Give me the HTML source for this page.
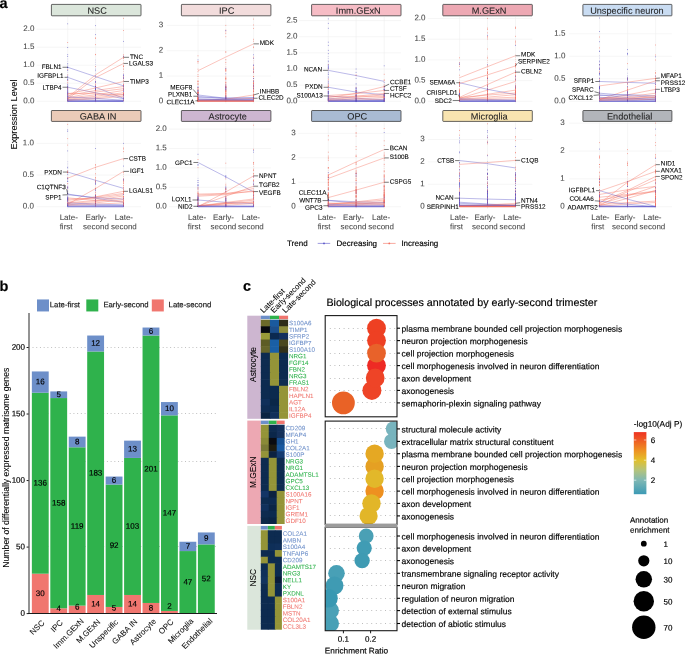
<!DOCTYPE html>
<html><head><meta charset="utf-8"><title>Figure</title>
<style>
html,body{margin:0;padding:0;background:#fff;}
svg{display:block;font-family:'Liberation Sans', sans-serif;will-change:transform;opacity:0.999;}
</style></head>
<body>
<svg width="685" height="654" viewBox="0 0 685 654">
<rect width="685" height="654" fill="#fff"/>
<line x1="36.60" y1="101.30" x2="141.00" y2="101.30" stroke="#eeeeee" stroke-width="0.55"/>
<text x="34.40" y="103.15" font-size="8" text-anchor="end" transform="rotate(0.05 34.40 103.15)" fill="#484848" stroke="#484848" stroke-width="0.07">0.0</text>
<line x1="36.60" y1="83.28" x2="141.00" y2="83.28" stroke="#eeeeee" stroke-width="0.55"/>
<text x="34.40" y="85.12" font-size="8" text-anchor="end" transform="rotate(0.05 34.40 85.12)" fill="#484848" stroke="#484848" stroke-width="0.07">0.5</text>
<line x1="36.60" y1="65.25" x2="141.00" y2="65.25" stroke="#eeeeee" stroke-width="0.55"/>
<text x="34.40" y="67.10" font-size="8" text-anchor="end" transform="rotate(0.05 34.40 67.10)" fill="#484848" stroke="#484848" stroke-width="0.07">1.0</text>
<line x1="36.60" y1="47.23" x2="141.00" y2="47.23" stroke="#eeeeee" stroke-width="0.55"/>
<text x="34.40" y="49.08" font-size="8" text-anchor="end" transform="rotate(0.05 34.40 49.08)" fill="#484848" stroke="#484848" stroke-width="0.07">1.5</text>
<line x1="36.60" y1="29.20" x2="141.00" y2="29.20" stroke="#eeeeee" stroke-width="0.55"/>
<text x="34.40" y="31.05" font-size="8" text-anchor="end" transform="rotate(0.05 34.40 31.05)" fill="#484848" stroke="#484848" stroke-width="0.07">2.0</text>
<line x1="67.70" y1="17.00" x2="67.70" y2="103.50" stroke="#eeeeee" stroke-width="0.55"/>
<line x1="95.60" y1="17.00" x2="95.60" y2="103.50" stroke="#eeeeee" stroke-width="0.55"/>
<line x1="123.50" y1="17.00" x2="123.50" y2="103.50" stroke="#eeeeee" stroke-width="0.55"/>
<line x1="67.70" y1="58.67" x2="67.70" y2="101.30" stroke="#5a55c8" stroke-width="0.8" stroke-dasharray=".7 1.5" opacity=".4"/>
<line x1="67.70" y1="78.05" x2="67.70" y2="101.30" stroke="#f4705f" stroke-width="0.8" stroke-dasharray=".7 1.9" stroke-dashoffset="1" opacity=".35"/>
<line x1="67.70" y1="101.30" x2="67.70" y2="92.00" stroke="#5a55c8" stroke-width="0.7" opacity=".5"/>
<line x1="95.60" y1="59.66" x2="95.60" y2="101.30" stroke="#5a55c8" stroke-width="0.8" stroke-dasharray=".7 1.5" opacity=".4"/>
<line x1="95.60" y1="78.59" x2="95.60" y2="101.30" stroke="#f4705f" stroke-width="0.8" stroke-dasharray=".7 1.9" stroke-dashoffset="1" opacity=".35"/>
<line x1="95.60" y1="101.30" x2="95.60" y2="92.22" stroke="#5a55c8" stroke-width="0.7" opacity=".5"/>
<line x1="123.50" y1="55.70" x2="123.50" y2="101.30" stroke="#f4705f" stroke-width="0.8" stroke-dasharray=".7 1.5" opacity=".4"/>
<line x1="123.50" y1="76.43" x2="123.50" y2="101.30" stroke="#5a55c8" stroke-width="0.8" stroke-dasharray=".7 1.9" stroke-dashoffset="1" opacity=".35"/>
<line x1="123.50" y1="101.30" x2="123.50" y2="91.35" stroke="#5a55c8" stroke-width="0.7" opacity=".5"/>
<path d="M67.7 42.5h0M67.7 87.6h0M67.7 75.1h0M67.7 80.5h0M67.7 88.6h0M67.7 69.7h0M67.7 82.9h0M67.7 100.3h0M67.7 97.9h0M67.7 93.6h0M67.7 99.3h0M67.7 95.8h0M67.7 98.1h0M67.7 89.8h0M67.7 91.6h0M67.7 94.6h0M67.7 88.3h0M67.7 101.1h0M95.6 38.5h0M95.6 37.8h0M95.6 54.7h0M95.6 54.4h0M95.6 66.7h0M95.6 44.6h0M95.6 85.2h0M95.6 89.9h0M95.6 86.5h0M95.6 87.6h0M95.6 81.7h0M95.6 89.4h0M95.6 84.2h0M95.6 87.2h0M95.6 100.7h0M95.6 100.5h0M95.6 98.6h0M95.6 101.2h0M95.6 87.1h0M95.6 94.5h0M95.6 101.2h0M95.6 94.7h0M95.6 91.8h0M95.6 90.5h0M95.6 90.4h0M95.6 97.7h0M95.6 89.9h0M123.5 18.4h0M123.5 30.5h0M123.5 58.5h0M123.5 56.6h0M123.5 54.8h0M123.5 57.2h0M123.5 78.4h0M123.5 66.2h0M123.5 80.1h0M123.5 66.4h0M123.5 66.0h0M123.5 76.4h0M123.5 88.4h0M123.5 77.9h0M123.5 84.3h0M123.5 88.8h0M123.5 69.0h0M123.5 84.6h0M123.5 90.4h0M123.5 93.6h0M123.5 97.4h0M123.5 94.2h0M123.5 93.6h0M123.5 89.2h0M123.5 100.4h0M123.5 93.5h0M123.5 94.4h0M123.5 93.5h0M123.5 89.7h0M123.5 95.5h0M123.5 92.5h0M123.5 94.5h0M123.5 95.4h0M123.5 94.0h0M123.5 86.0h0M123.5 87.3h0M123.5 86.0h0M123.5 98.4h0M123.5 93.5h0M123.5 85.9h0M123.5 100.0h0" stroke="#f4705f" stroke-width="0.95" stroke-linecap="round" fill="none" opacity=".72"/>
<path d="M67.7 23.8h0M67.7 56.5h0M67.7 63.9h0M67.7 67.2h0M67.7 47.5h0M67.7 54.7h0M67.7 67.8h0M67.7 77.9h0M67.7 88.8h0M67.7 79.6h0M67.7 88.0h0M67.7 79.8h0M67.7 70.4h0M67.7 86.8h0M67.7 84.5h0M67.7 67.6h0M67.7 76.3h0M67.7 67.0h0M67.7 86.3h0M67.7 89.4h0M67.7 99.6h0M67.7 92.6h0M67.7 97.0h0M67.7 94.2h0M67.7 100.9h0M67.7 100.9h0M67.7 91.9h0M67.7 96.2h0M67.7 97.9h0M67.7 93.6h0M67.7 98.8h0M67.7 93.8h0M67.7 91.0h0M67.7 98.2h0M67.7 86.2h0M67.7 100.3h0M67.7 96.3h0M67.7 90.5h0M67.7 100.0h0M67.7 95.2h0M67.7 92.1h0M95.6 25.6h0M95.6 34.6h0M95.6 88.5h0M95.6 88.4h0M95.6 86.3h0M95.6 82.2h0M95.6 88.8h0M95.6 70.1h0M95.6 76.0h0M95.6 86.6h0M95.6 82.1h0M95.6 81.7h0M95.6 89.1h0M95.6 86.3h0M95.6 95.7h0M95.6 95.4h0M95.6 97.5h0M95.6 89.4h0M95.6 99.9h0M95.6 94.7h0M95.6 100.1h0M95.6 86.6h0M95.6 88.8h0M95.6 98.7h0M95.6 97.2h0M95.6 99.8h0M95.6 94.6h0M95.6 99.1h0M95.6 89.8h0M95.6 86.5h0M95.6 89.0h0M95.6 89.6h0M123.5 41.4h0M123.5 56.3h0M123.5 85.6h0M123.5 77.5h0M123.5 74.4h0M123.5 78.4h0M123.5 75.6h0M123.5 75.8h0M123.5 95.0h0M123.5 98.6h0M123.5 98.2h0M123.5 89.4h0M123.5 86.6h0M123.5 94.4h0M123.5 91.0h0M123.5 94.9h0M123.5 90.9h0M123.5 88.1h0" stroke="#5a55c8" stroke-width="0.95" stroke-linecap="round" fill="none" opacity=".72"/>
<polyline points="67.70,67.27 95.60,76.64 123.50,85.87" fill="none" stroke="#5a55c8" stroke-width="0.45" stroke-opacity="0.9"/>
<polyline points="67.70,77.33 95.60,87.24 123.50,98.27" fill="none" stroke="#5a55c8" stroke-width="0.45" stroke-opacity="0.9"/>
<polyline points="67.70,87.24 95.60,92.76 123.50,98.78" fill="none" stroke="#5a55c8" stroke-width="0.45" stroke-opacity="0.9"/>
<polyline points="67.70,97.33 95.60,74.84 123.50,57.32" fill="none" stroke="#f4705f" stroke-width="0.45" stroke-opacity="0.9"/>
<polyline points="67.70,98.96 95.60,77.62 123.50,63.45" fill="none" stroke="#f4705f" stroke-width="0.45" stroke-opacity="0.9"/>
<polyline points="67.70,94.09 95.60,87.96 123.50,81.47" fill="none" stroke="#f4705f" stroke-width="0.45" stroke-opacity="0.9"/>
<polyline points="67.70,95.53 95.60,90.48 123.50,86.52" fill="none" stroke="#f4705f" stroke-width="0.45" stroke-opacity="0.9"/>
<polyline points="67.70,97.69 95.60,92.07 123.50,88.68" fill="none" stroke="#f4705f" stroke-width="0.45" stroke-opacity="0.9"/>
<polyline points="67.70,98.24 95.60,94.81 123.50,90.48" fill="none" stroke="#f4705f" stroke-width="0.45" stroke-opacity="0.9"/>
<polyline points="67.70,99.25 95.60,96.25 123.50,92.76" fill="none" stroke="#f4705f" stroke-width="0.45" stroke-opacity="0.9"/>
<polyline points="67.70,100.07 95.60,97.69 123.50,94.56" fill="none" stroke="#f4705f" stroke-width="0.45" stroke-opacity="0.9"/>
<polyline points="67.70,100.58 95.60,98.78 123.50,96.25" fill="none" stroke="#f4705f" stroke-width="0.45" stroke-opacity="0.9"/>
<polyline points="67.70,93.37 95.60,93.73 123.50,94.81" fill="none" stroke="#f4705f" stroke-width="0.45" stroke-opacity="0.9"/>
<polyline points="67.70,96.97 95.60,98.42 123.50,100.22" fill="none" stroke="#5a55c8" stroke-width="0.45" stroke-opacity="0.9"/>
<polyline points="67.70,99.50 95.60,100.22 123.50,100.58" fill="none" stroke="#5a55c8" stroke-width="0.45" stroke-opacity="0.9"/>
<polyline points="67.70,100.58 95.60,100.58 123.50,100.94" fill="none" stroke="#5a55c8" stroke-width="0.45" stroke-opacity="0.9"/>
<line x1="67.70" y1="101.40" x2="123.50" y2="101.40" stroke="#5a55c8" stroke-width="1.1" opacity=".75"/>
<rect x="51.40" y="4.40" width="89.60" height="11.40" fill="#dbe6db" stroke="#333" stroke-width="0.75" rx="0.6"/>
<text x="97.10" y="13.70" font-size="9.2" text-anchor="middle" transform="rotate(0.05 97.10 13.70)" fill="#222" stroke="#222" stroke-width="0.07">NSC</text>
<text x="61.60" y="69.10" font-size="6.4" text-anchor="end" transform="rotate(0.05 61.60 69.10)" fill="#000" stroke="#000" stroke-width="0.08">FBLN1</text>
<line x1="62.50" y1="67.27" x2="67.70" y2="67.27" stroke="#111" stroke-width="0.55"/>
<text x="63.60" y="77.90" font-size="6.4" text-anchor="end" transform="rotate(0.05 63.60 77.90)" fill="#000" stroke="#000" stroke-width="0.08">IGFBPL1</text>
<line x1="64.50" y1="77.33" x2="67.70" y2="77.33" stroke="#111" stroke-width="0.55"/>
<text x="61.60" y="89.70" font-size="6.4" text-anchor="end" transform="rotate(0.05 61.60 89.70)" fill="#000" stroke="#000" stroke-width="0.08">LTBP4</text>
<line x1="62.50" y1="87.24" x2="67.70" y2="87.24" stroke="#111" stroke-width="0.55"/>
<text x="129.90" y="59.10" font-size="6.4" transform="rotate(0.05 129.90 59.10)" fill="#000" stroke="#000" stroke-width="0.08">TNC</text>
<line x1="129.00" y1="57.32" x2="123.50" y2="57.32" stroke="#111" stroke-width="0.55"/>
<text x="128.90" y="65.60" font-size="6.4" transform="rotate(0.05 128.90 65.60)" fill="#000" stroke="#000" stroke-width="0.08">LGALS3</text>
<line x1="128.00" y1="63.45" x2="123.50" y2="63.45" stroke="#111" stroke-width="0.55"/>
<text x="129.90" y="83.70" font-size="6.4" transform="rotate(0.05 129.90 83.70)" fill="#000" stroke="#000" stroke-width="0.08">TIMP3</text>
<line x1="129.00" y1="81.47" x2="123.50" y2="81.47" stroke="#111" stroke-width="0.55"/>
<line x1="166.80" y1="101.30" x2="270.90" y2="101.30" stroke="#eeeeee" stroke-width="0.55"/>
<text x="163.20" y="103.15" font-size="8" text-anchor="end" transform="rotate(0.05 163.20 103.15)" fill="#484848" stroke="#484848" stroke-width="0.07">0</text>
<line x1="166.80" y1="76.00" x2="270.90" y2="76.00" stroke="#eeeeee" stroke-width="0.55"/>
<text x="163.20" y="77.85" font-size="8" text-anchor="end" transform="rotate(0.05 163.20 77.85)" fill="#484848" stroke="#484848" stroke-width="0.07">1</text>
<line x1="166.80" y1="50.70" x2="270.90" y2="50.70" stroke="#eeeeee" stroke-width="0.55"/>
<text x="163.20" y="52.55" font-size="8" text-anchor="end" transform="rotate(0.05 163.20 52.55)" fill="#484848" stroke="#484848" stroke-width="0.07">2</text>
<line x1="166.80" y1="25.40" x2="270.90" y2="25.40" stroke="#eeeeee" stroke-width="0.55"/>
<text x="163.20" y="27.25" font-size="8" text-anchor="end" transform="rotate(0.05 163.20 27.25)" fill="#484848" stroke="#484848" stroke-width="0.07">3</text>
<line x1="198.00" y1="17.00" x2="198.00" y2="103.50" stroke="#eeeeee" stroke-width="0.55"/>
<line x1="225.80" y1="17.00" x2="225.80" y2="103.50" stroke="#eeeeee" stroke-width="0.55"/>
<line x1="253.60" y1="17.00" x2="253.60" y2="103.50" stroke="#eeeeee" stroke-width="0.55"/>
<line x1="198.00" y1="76.25" x2="198.00" y2="101.30" stroke="#f4705f" stroke-width="0.8" stroke-dasharray=".7 1.5" opacity=".4"/>
<line x1="198.00" y1="87.64" x2="198.00" y2="101.30" stroke="#5a55c8" stroke-width="0.8" stroke-dasharray=".7 1.9" stroke-dashoffset="1" opacity=".35"/>
<line x1="198.00" y1="101.30" x2="198.00" y2="95.84" stroke="#f4705f" stroke-width="0.7" opacity=".5"/>
<line x1="225.80" y1="59.55" x2="225.80" y2="101.30" stroke="#f4705f" stroke-width="0.8" stroke-dasharray=".7 1.5" opacity=".4"/>
<line x1="225.80" y1="78.53" x2="225.80" y2="101.30" stroke="#5a55c8" stroke-width="0.8" stroke-dasharray=".7 1.9" stroke-dashoffset="1" opacity=".35"/>
<line x1="225.80" y1="101.30" x2="225.80" y2="92.19" stroke="#f4705f" stroke-width="0.7" opacity=".5"/>
<line x1="253.60" y1="56.08" x2="253.60" y2="101.30" stroke="#f4705f" stroke-width="0.8" stroke-dasharray=".7 1.5" opacity=".4"/>
<line x1="253.60" y1="76.63" x2="253.60" y2="101.30" stroke="#5a55c8" stroke-width="0.8" stroke-dasharray=".7 1.9" stroke-dashoffset="1" opacity=".35"/>
<line x1="253.60" y1="101.30" x2="253.60" y2="91.43" stroke="#f4705f" stroke-width="0.7" opacity=".5"/>
<path d="M198.0 55.8h0M198.0 63.0h0M198.0 81.0h0M198.0 61.6h0M198.0 81.4h0M198.0 61.5h0M198.0 71.7h0M198.0 74.6h0M198.0 69.2h0M198.0 76.4h0M198.0 92.7h0M198.0 91.2h0M198.0 93.0h0M198.0 92.3h0M198.0 93.8h0M198.0 90.3h0M198.0 84.1h0M198.0 87.6h0M198.0 92.0h0M198.0 89.7h0M198.0 84.5h0M198.0 91.9h0M198.0 88.0h0M198.0 81.7h0M198.0 93.0h0M198.0 83.3h0M198.0 88.6h0M198.0 97.6h0M198.0 98.6h0M198.0 97.5h0M198.0 95.7h0M198.0 92.4h0M198.0 99.0h0M198.0 94.1h0M198.0 95.5h0M198.0 96.2h0M198.0 98.5h0M198.0 99.0h0M198.0 101.1h0M198.0 100.7h0M198.0 101.0h0M198.0 95.1h0M198.0 99.8h0M198.0 100.4h0M198.0 100.9h0M198.0 94.0h0M198.0 93.7h0M198.0 99.5h0M198.0 99.9h0M198.0 99.5h0M198.0 98.0h0M198.0 100.5h0M198.0 98.1h0M198.0 99.7h0M198.0 92.6h0M198.0 92.5h0M198.0 97.1h0M198.0 99.8h0M198.0 92.6h0M198.0 99.3h0M198.0 98.9h0M198.0 101.3h0M198.0 98.7h0M198.0 97.8h0M198.0 97.6h0M198.0 100.2h0M198.0 97.6h0M198.0 101.3h0M198.0 99.7h0M198.0 100.9h0M198.0 98.5h0M225.8 25.4h0M225.8 33.6h0M225.8 62.6h0M225.8 30.1h0M225.8 31.9h0M225.8 70.2h0M225.8 51.8h0M225.8 36.7h0M225.8 52.2h0M225.8 59.7h0M225.8 85.1h0M225.8 76.7h0M225.8 86.7h0M225.8 78.0h0M225.8 68.2h0M225.8 86.9h0M225.8 71.2h0M225.8 78.3h0M225.8 69.7h0M225.8 84.6h0M225.8 69.5h0M225.8 78.8h0M225.8 89.3h0M225.8 89.8h0M225.8 78.7h0M225.8 79.7h0M225.8 83.0h0M225.8 82.1h0M225.8 82.7h0M225.8 70.8h0M225.8 90.8h0M225.8 89.2h0M225.8 100.3h0M225.8 87.6h0M225.8 91.5h0M225.8 96.8h0M225.8 86.1h0M225.8 93.7h0M225.8 96.3h0M225.8 98.5h0M225.8 101.0h0M225.8 100.5h0M225.8 98.6h0M225.8 95.0h0M225.8 99.5h0M225.8 97.1h0M225.8 87.0h0M225.8 89.7h0M225.8 93.0h0M225.8 87.8h0M225.8 87.3h0M225.8 94.3h0M225.8 91.4h0M225.8 101.0h0M225.8 91.2h0M225.8 90.8h0M225.8 92.7h0M225.8 98.3h0M225.8 101.0h0M225.8 87.5h0M225.8 100.3h0M225.8 95.6h0M225.8 97.5h0M225.8 98.2h0M225.8 91.1h0M225.8 86.6h0M253.6 19.1h0M253.6 41.2h0M253.6 67.9h0M253.6 47.6h0M253.6 25.0h0M253.6 39.3h0M253.6 28.4h0M253.6 46.9h0M253.6 57.8h0M253.6 82.9h0M253.6 71.6h0M253.6 81.4h0M253.6 76.7h0M253.6 72.3h0M253.6 82.6h0M253.6 72.5h0M253.6 66.1h0M253.6 83.4h0M253.6 88.1h0M253.6 80.6h0M253.6 78.6h0M253.6 84.1h0M253.6 70.7h0M253.6 76.5h0M253.6 83.9h0M253.6 68.7h0M253.6 83.3h0M253.6 99.0h0M253.6 89.8h0M253.6 85.9h0M253.6 94.7h0M253.6 99.4h0M253.6 99.0h0M253.6 96.0h0M253.6 91.6h0M253.6 85.9h0M253.6 99.9h0M253.6 96.4h0M253.6 99.1h0M253.6 85.4h0M253.6 100.0h0M253.6 100.9h0M253.6 100.9h0M253.6 96.4h0M253.6 87.0h0M253.6 87.3h0M253.6 90.3h0M253.6 99.5h0M253.6 86.2h0M253.6 90.1h0M253.6 101.1h0M253.6 91.6h0M253.6 96.6h0M253.6 96.7h0M253.6 97.4h0M253.6 99.7h0M253.6 101.3h0M253.6 98.2h0M253.6 97.1h0M253.6 85.8h0M253.6 100.2h0M253.6 85.6h0M253.6 99.2h0M253.6 97.0h0M253.6 88.6h0M253.6 88.6h0M253.6 95.8h0M253.6 101.0h0M253.6 95.1h0" stroke="#f4705f" stroke-width="0.95" stroke-linecap="round" fill="none" opacity=".72"/>
<path d="M198.0 59.9h0M198.0 87.3h0M198.0 91.7h0M198.0 90.2h0M198.0 90.5h0M198.0 94.2h0M198.0 91.0h0M198.0 94.3h0M198.0 86.9h0M198.0 94.1h0M198.0 95.9h0M225.8 30.5h0M225.8 85.1h0M225.8 68.4h0M225.8 73.9h0M225.8 86.7h0M225.8 89.9h0M225.8 88.0h0M225.8 98.3h0M225.8 97.1h0M225.8 97.3h0M225.8 89.3h0M225.8 98.3h0M225.8 87.4h0M225.8 98.8h0M225.8 88.4h0M225.8 95.9h0M253.6 58.3h0M253.6 54.8h0M253.6 65.3h0M253.6 88.4h0M253.6 78.6h0M253.6 72.1h0M253.6 69.3h0M253.6 65.0h0M253.6 81.3h0M253.6 97.9h0M253.6 84.9h0M253.6 86.3h0M253.6 97.4h0" stroke="#5a55c8" stroke-width="0.95" stroke-linecap="round" fill="none" opacity=".72"/>
<polyline points="198.00,70.69 225.80,57.02 253.60,43.87" fill="none" stroke="#f4705f" stroke-width="0.45" stroke-opacity="0.9"/>
<polyline points="198.00,94.97 225.80,98.26 253.60,97.50" fill="none" stroke="#5a55c8" stroke-width="0.45" stroke-opacity="0.9"/>
<polyline points="198.00,96.24 225.80,98.77 253.60,99.28" fill="none" stroke="#5a55c8" stroke-width="0.45" stroke-opacity="0.9"/>
<polyline points="198.00,97.50 225.80,98.01 253.60,98.26" fill="none" stroke="#5a55c8" stroke-width="0.45" stroke-opacity="0.9"/>
<polyline points="198.00,100.03 225.80,99.28 253.60,94.97" fill="none" stroke="#f4705f" stroke-width="0.45" stroke-opacity="0.9"/>
<polyline points="198.00,100.29 225.80,100.03 253.60,98.26" fill="none" stroke="#f4705f" stroke-width="0.45" stroke-opacity="0.9"/>
<polyline points="198.00,98.77 225.80,99.78 253.60,100.03" fill="none" stroke="#5a55c8" stroke-width="0.45" stroke-opacity="0.9"/>
<polyline points="198.00,100.79 225.80,100.79 253.60,100.54" fill="none" stroke="#f4705f" stroke-width="0.45" stroke-opacity="0.9"/>
<polyline points="198.00,100.54 225.80,100.67 253.60,100.79" fill="none" stroke="#f4705f" stroke-width="0.45" stroke-opacity="0.9"/>
<polyline points="198.00,100.92 225.80,100.79 253.60,100.92" fill="none" stroke="#f4705f" stroke-width="0.45" stroke-opacity="0.9"/>
<polyline points="198.00,100.03 225.80,100.29 253.60,100.54" fill="none" stroke="#5a55c8" stroke-width="0.45" stroke-opacity="0.9"/>
<polyline points="198.00,101.05 225.80,101.05 253.60,101.05" fill="none" stroke="#5a55c8" stroke-width="0.45" stroke-opacity="0.9"/>
<line x1="198.00" y1="100.00" x2="253.60" y2="100.00" stroke="#5a55c8" stroke-width="0.9" opacity=".7"/>
<line x1="198.00" y1="101.10" x2="253.60" y2="101.10" stroke="#f4705f" stroke-width="1.3" opacity=".95"/>
<rect x="181.40" y="4.40" width="89.50" height="11.40" fill="#f2dcdc" stroke="#333" stroke-width="0.75" rx="0.6"/>
<text x="226.65" y="13.70" font-size="9.2" text-anchor="middle" transform="rotate(0.05 226.65 13.70)" fill="#222" stroke="#222" stroke-width="0.07">IPC</text>
<text x="192.20" y="89.50" font-size="6.4" text-anchor="end" transform="rotate(0.05 192.20 89.50)" fill="#000" stroke="#000" stroke-width="0.08">MEGF8</text>
<line x1="193.10" y1="89.40" x2="198.00" y2="94.97" stroke="#111" stroke-width="0.55"/>
<text x="192.40" y="96.50" font-size="6.4" text-anchor="end" transform="rotate(0.05 192.40 96.50)" fill="#000" stroke="#000" stroke-width="0.08">PLXNB1</text>
<line x1="193.30" y1="96.24" x2="198.00" y2="96.24" stroke="#111" stroke-width="0.55"/>
<text x="194.50" y="104.30" font-size="6.4" text-anchor="end" transform="rotate(0.05 194.50 104.30)" fill="#000" stroke="#000" stroke-width="0.08">CLEC11A</text>
<line x1="195.40" y1="100.79" x2="198.00" y2="100.79" stroke="#111" stroke-width="0.55"/>
<text x="259.80" y="45.00" font-size="6.4" transform="rotate(0.05 259.80 45.00)" fill="#000" stroke="#000" stroke-width="0.08">MDK</text>
<line x1="258.90" y1="43.87" x2="253.60" y2="43.87" stroke="#111" stroke-width="0.55"/>
<text x="259.80" y="93.50" font-size="6.4" transform="rotate(0.05 259.80 93.50)" fill="#000" stroke="#000" stroke-width="0.08">INHBB</text>
<line x1="258.90" y1="93.40" x2="253.60" y2="94.97" stroke="#111" stroke-width="0.55"/>
<text x="258.50" y="99.80" font-size="6.4" transform="rotate(0.05 258.50 99.80)" fill="#000" stroke="#000" stroke-width="0.08">CLEC2D</text>
<line x1="257.60" y1="98.26" x2="253.60" y2="98.26" stroke="#111" stroke-width="0.55"/>
<line x1="299.00" y1="101.30" x2="401.00" y2="101.30" stroke="#eeeeee" stroke-width="0.55"/>
<text x="297.50" y="103.15" font-size="8" text-anchor="end" transform="rotate(0.05 297.50 103.15)" fill="#484848" stroke="#484848" stroke-width="0.07">0.0</text>
<line x1="299.00" y1="85.15" x2="401.00" y2="85.15" stroke="#eeeeee" stroke-width="0.55"/>
<text x="297.50" y="87.00" font-size="8" text-anchor="end" transform="rotate(0.05 297.50 87.00)" fill="#484848" stroke="#484848" stroke-width="0.07">0.5</text>
<line x1="299.00" y1="69.00" x2="401.00" y2="69.00" stroke="#eeeeee" stroke-width="0.55"/>
<text x="297.50" y="70.85" font-size="8" text-anchor="end" transform="rotate(0.05 297.50 70.85)" fill="#484848" stroke="#484848" stroke-width="0.07">1.0</text>
<line x1="299.00" y1="52.85" x2="401.00" y2="52.85" stroke="#eeeeee" stroke-width="0.55"/>
<text x="297.50" y="54.70" font-size="8" text-anchor="end" transform="rotate(0.05 297.50 54.70)" fill="#484848" stroke="#484848" stroke-width="0.07">1.5</text>
<line x1="299.00" y1="36.70" x2="401.00" y2="36.70" stroke="#eeeeee" stroke-width="0.55"/>
<text x="297.50" y="38.55" font-size="8" text-anchor="end" transform="rotate(0.05 297.50 38.55)" fill="#484848" stroke="#484848" stroke-width="0.07">2.0</text>
<line x1="299.00" y1="20.55" x2="401.00" y2="20.55" stroke="#eeeeee" stroke-width="0.55"/>
<text x="297.50" y="22.40" font-size="8" text-anchor="end" transform="rotate(0.05 297.50 22.40)" fill="#484848" stroke="#484848" stroke-width="0.07">2.5</text>
<line x1="328.30" y1="17.00" x2="328.30" y2="103.50" stroke="#eeeeee" stroke-width="0.55"/>
<line x1="356.10" y1="17.00" x2="356.10" y2="103.50" stroke="#eeeeee" stroke-width="0.55"/>
<line x1="384.20" y1="17.00" x2="384.20" y2="103.50" stroke="#eeeeee" stroke-width="0.55"/>
<line x1="328.30" y1="56.00" x2="328.30" y2="101.30" stroke="#5a55c8" stroke-width="0.8" stroke-dasharray=".7 1.5" opacity=".4"/>
<line x1="328.30" y1="76.59" x2="328.30" y2="101.30" stroke="#f4705f" stroke-width="0.8" stroke-dasharray=".7 1.9" stroke-dashoffset="1" opacity=".35"/>
<line x1="328.30" y1="101.30" x2="328.30" y2="91.42" stroke="#5a55c8" stroke-width="0.7" opacity=".5"/>
<line x1="356.10" y1="83.53" x2="356.10" y2="101.30" stroke="#5a55c8" stroke-width="0.8" stroke-dasharray=".7 1.5" opacity=".4"/>
<line x1="356.10" y1="91.61" x2="356.10" y2="101.30" stroke="#f4705f" stroke-width="0.8" stroke-dasharray=".7 1.9" stroke-dashoffset="1" opacity=".35"/>
<line x1="356.10" y1="101.30" x2="356.10" y2="97.42" stroke="#5a55c8" stroke-width="0.7" opacity=".5"/>
<line x1="384.20" y1="81.76" x2="384.20" y2="101.30" stroke="#f4705f" stroke-width="0.8" stroke-dasharray=".7 1.5" opacity=".4"/>
<line x1="384.20" y1="90.64" x2="384.20" y2="101.30" stroke="#5a55c8" stroke-width="0.8" stroke-dasharray=".7 1.9" stroke-dashoffset="1" opacity=".35"/>
<line x1="384.20" y1="101.30" x2="384.20" y2="97.04" stroke="#5a55c8" stroke-width="0.7" opacity=".5"/>
<path d="M328.3 69.0h0M328.3 64.5h0M328.3 86.4h0M328.3 86.0h0M328.3 84.3h0M328.3 79.7h0M328.3 89.4h0M328.3 86.0h0M328.3 92.5h0M328.3 99.2h0M328.3 98.5h0M328.3 101.3h0M328.3 89.1h0M328.3 100.8h0M328.3 92.1h0M328.3 100.6h0M328.3 98.1h0M356.1 75.5h0M356.1 87.6h0M356.1 74.9h0M356.1 95.3h0M356.1 90.6h0M356.1 90.4h0M356.1 93.5h0M356.1 92.4h0M356.1 90.8h0M356.1 92.2h0M356.1 90.5h0M356.1 100.9h0M356.1 98.6h0M356.1 98.6h0M356.1 98.6h0M356.1 95.2h0M356.1 96.3h0M356.1 100.5h0M356.1 95.0h0M356.1 98.7h0M356.1 95.4h0M356.1 101.1h0M384.2 74.3h0M384.2 86.7h0M384.2 87.0h0M384.2 80.2h0M384.2 85.0h0M384.2 80.1h0M384.2 89.3h0M384.2 90.9h0M384.2 94.5h0M384.2 93.4h0M384.2 94.4h0M384.2 86.7h0M384.2 91.7h0M384.2 93.2h0M384.2 95.8h0M384.2 97.3h0M384.2 94.8h0M384.2 96.6h0M384.2 100.2h0M384.2 98.0h0M384.2 100.7h0M384.2 100.4h0M384.2 97.6h0M384.2 97.3h0M384.2 100.6h0M384.2 99.8h0M384.2 99.8h0M384.2 95.2h0M384.2 96.1h0M384.2 96.7h0M384.2 101.3h0" stroke="#f4705f" stroke-width="0.95" stroke-linecap="round" fill="none" opacity=".72"/>
<path d="M328.3 18.9h0M328.3 61.4h0M328.3 28.3h0M328.3 42.2h0M328.3 53.6h0M328.3 50.4h0M328.3 23.4h0M328.3 45.4h0M328.3 83.2h0M328.3 72.8h0M328.3 77.2h0M328.3 68.7h0M328.3 68.2h0M328.3 66.4h0M328.3 87.9h0M328.3 81.7h0M328.3 64.9h0M328.3 74.5h0M328.3 66.0h0M328.3 67.5h0M328.3 95.5h0M328.3 98.4h0M328.3 100.4h0M328.3 92.9h0M328.3 99.0h0M328.3 96.8h0M328.3 100.0h0M328.3 92.8h0M328.3 91.9h0M328.3 99.2h0M328.3 97.4h0M328.3 91.4h0M328.3 99.5h0M328.3 97.7h0M328.3 99.2h0M328.3 93.8h0M328.3 100.5h0M328.3 96.4h0M328.3 93.7h0M328.3 99.7h0M328.3 91.0h0M328.3 96.1h0M356.1 69.0h0M356.1 84.0h0M356.1 72.4h0M356.1 78.4h0M356.1 87.7h0M356.1 88.3h0M356.1 91.1h0M356.1 92.3h0M356.1 90.1h0M356.1 92.1h0M356.1 96.2h0M356.1 91.7h0M356.1 94.2h0M356.1 89.1h0M356.1 88.9h0M356.1 99.0h0M356.1 100.6h0M356.1 98.9h0M356.1 100.9h0M356.1 99.1h0M356.1 101.0h0M356.1 99.1h0M356.1 101.2h0M356.1 97.7h0M356.1 101.0h0M356.1 97.0h0M356.1 96.6h0M356.1 101.2h0M356.1 99.5h0M356.1 100.8h0M356.1 96.0h0M356.1 94.9h0M356.1 97.0h0M356.1 95.2h0M356.1 95.5h0M356.1 100.7h0M356.1 96.6h0M384.2 65.8h0M384.2 82.7h0M384.2 89.8h0M384.2 89.7h0M384.2 93.8h0M384.2 86.0h0M384.2 94.9h0M384.2 89.2h0M384.2 87.6h0M384.2 89.1h0M384.2 90.0h0M384.2 99.5h0M384.2 98.8h0M384.2 100.1h0M384.2 95.1h0M384.2 101.2h0M384.2 98.2h0M384.2 99.1h0M384.2 101.1h0M384.2 96.2h0M384.2 101.3h0M384.2 94.7h0M384.2 98.4h0M384.2 95.9h0M384.2 101.2h0M384.2 95.6h0M384.2 96.5h0M384.2 98.7h0" stroke="#5a55c8" stroke-width="0.95" stroke-linecap="round" fill="none" opacity=".72"/>
<polyline points="328.30,70.36 356.10,75.59 384.20,81.37" fill="none" stroke="#5a55c8" stroke-width="0.45" stroke-opacity="0.9"/>
<polyline points="328.30,87.28 356.10,92.09 384.20,94.84" fill="none" stroke="#5a55c8" stroke-width="0.45" stroke-opacity="0.9"/>
<polyline points="328.30,95.94 356.10,98.26 384.20,99.69" fill="none" stroke="#5a55c8" stroke-width="0.45" stroke-opacity="0.9"/>
<polyline points="328.30,97.59 356.10,93.45 384.20,86.57" fill="none" stroke="#f4705f" stroke-width="0.45" stroke-opacity="0.9"/>
<polyline points="328.30,95.52 356.10,93.74 384.20,90.45" fill="none" stroke="#f4705f" stroke-width="0.45" stroke-opacity="0.9"/>
<polyline points="328.30,98.97 356.10,96.20 384.20,93.45" fill="none" stroke="#f4705f" stroke-width="0.45" stroke-opacity="0.9"/>
<polyline points="328.30,99.69 356.10,97.42 384.20,94.84" fill="none" stroke="#f4705f" stroke-width="0.45" stroke-opacity="0.9"/>
<polyline points="328.30,96.78 356.10,96.13 384.20,96.45" fill="none" stroke="#f4705f" stroke-width="0.45" stroke-opacity="0.9"/>
<polyline points="328.30,100.33 356.10,98.72 384.20,97.42" fill="none" stroke="#f4705f" stroke-width="0.45" stroke-opacity="0.9"/>
<polyline points="328.30,100.65 356.10,100.01 384.20,99.04" fill="none" stroke="#f4705f" stroke-width="0.45" stroke-opacity="0.9"/>
<polyline points="328.30,98.72 356.10,100.01 384.20,100.33" fill="none" stroke="#5a55c8" stroke-width="0.45" stroke-opacity="0.9"/>
<polyline points="328.30,100.33 356.10,100.65 384.20,100.65" fill="none" stroke="#5a55c8" stroke-width="0.45" stroke-opacity="0.9"/>
<polyline points="328.30,100.98 356.10,100.98 384.20,100.98" fill="none" stroke="#5a55c8" stroke-width="0.45" stroke-opacity="0.9"/>
<line x1="328.30" y1="101.40" x2="384.20" y2="101.40" stroke="#5a55c8" stroke-width="1.1" opacity=".75"/>
<rect x="311.60" y="4.40" width="89.40" height="11.40" fill="#f6bcc5" stroke="#333" stroke-width="0.75" rx="0.6"/>
<text x="358.30" y="13.70" font-size="9.2" text-anchor="middle" transform="rotate(0.05 358.30 13.70)" fill="#222" stroke="#222" stroke-width="0.07">Imm.GExN</text>
<text x="322.00" y="71.60" font-size="6.4" text-anchor="end" transform="rotate(0.05 322.00 71.60)" fill="#000" stroke="#000" stroke-width="0.08">NCAN</text>
<line x1="322.90" y1="70.36" x2="328.30" y2="70.36" stroke="#111" stroke-width="0.55"/>
<text x="322.70" y="88.70" font-size="6.4" text-anchor="end" transform="rotate(0.05 322.70 88.70)" fill="#000" stroke="#000" stroke-width="0.08">PXDN</text>
<line x1="323.60" y1="87.28" x2="328.30" y2="87.28" stroke="#111" stroke-width="0.55"/>
<text x="322.70" y="97.60" font-size="6.4" text-anchor="end" transform="rotate(0.05 322.70 97.60)" fill="#000" stroke="#000" stroke-width="0.08">S100A13</text>
<line x1="323.60" y1="95.94" x2="328.30" y2="95.94" stroke="#111" stroke-width="0.55"/>
<text x="390.00" y="84.20" font-size="6.4" transform="rotate(0.05 390.00 84.20)" fill="#000" stroke="#000" stroke-width="0.08">CCBE1</text>
<line x1="389.10" y1="84.10" x2="384.20" y2="86.57" stroke="#111" stroke-width="0.55"/>
<text x="390.00" y="90.70" font-size="6.4" transform="rotate(0.05 390.00 90.70)" fill="#000" stroke="#000" stroke-width="0.08">CTSF</text>
<line x1="389.10" y1="90.45" x2="384.20" y2="90.45" stroke="#111" stroke-width="0.55"/>
<text x="390.00" y="97.50" font-size="6.4" transform="rotate(0.05 390.00 97.50)" fill="#000" stroke="#000" stroke-width="0.08">HCFC2</text>
<line x1="389.10" y1="93.45" x2="384.20" y2="93.45" stroke="#111" stroke-width="0.55"/>
<line x1="427.80" y1="101.30" x2="532.30" y2="101.30" stroke="#eeeeee" stroke-width="0.55"/>
<text x="425.50" y="103.15" font-size="8" text-anchor="end" transform="rotate(0.05 425.50 103.15)" fill="#484848" stroke="#484848" stroke-width="0.07">0.0</text>
<line x1="427.80" y1="80.60" x2="532.30" y2="80.60" stroke="#eeeeee" stroke-width="0.55"/>
<text x="425.50" y="82.45" font-size="8" text-anchor="end" transform="rotate(0.05 425.50 82.45)" fill="#484848" stroke="#484848" stroke-width="0.07">0.5</text>
<line x1="427.80" y1="59.90" x2="532.30" y2="59.90" stroke="#eeeeee" stroke-width="0.55"/>
<text x="425.50" y="61.75" font-size="8" text-anchor="end" transform="rotate(0.05 425.50 61.75)" fill="#484848" stroke="#484848" stroke-width="0.07">1.0</text>
<line x1="427.80" y1="39.20" x2="532.30" y2="39.20" stroke="#eeeeee" stroke-width="0.55"/>
<text x="425.50" y="41.05" font-size="8" text-anchor="end" transform="rotate(0.05 425.50 41.05)" fill="#484848" stroke="#484848" stroke-width="0.07">1.5</text>
<line x1="427.80" y1="18.50" x2="532.30" y2="18.50" stroke="#eeeeee" stroke-width="0.55"/>
<text x="425.50" y="20.35" font-size="8" text-anchor="end" transform="rotate(0.05 425.50 20.35)" fill="#484848" stroke="#484848" stroke-width="0.07">2.0</text>
<line x1="459.60" y1="17.00" x2="459.60" y2="103.50" stroke="#eeeeee" stroke-width="0.55"/>
<line x1="487.50" y1="17.00" x2="487.50" y2="103.50" stroke="#eeeeee" stroke-width="0.55"/>
<line x1="515.50" y1="17.00" x2="515.50" y2="103.50" stroke="#eeeeee" stroke-width="0.55"/>
<line x1="459.60" y1="77.39" x2="459.60" y2="101.30" stroke="#f4705f" stroke-width="0.8" stroke-dasharray=".7 1.5" opacity=".4"/>
<line x1="459.60" y1="88.26" x2="459.60" y2="101.30" stroke="#5a55c8" stroke-width="0.8" stroke-dasharray=".7 1.9" stroke-dashoffset="1" opacity=".35"/>
<line x1="459.60" y1="101.30" x2="459.60" y2="96.08" stroke="#f4705f" stroke-width="0.7" opacity=".5"/>
<line x1="487.50" y1="55.76" x2="487.50" y2="101.30" stroke="#f4705f" stroke-width="0.8" stroke-dasharray=".7 1.5" opacity=".4"/>
<line x1="487.50" y1="76.46" x2="487.50" y2="101.30" stroke="#5a55c8" stroke-width="0.8" stroke-dasharray=".7 1.9" stroke-dashoffset="1" opacity=".35"/>
<line x1="487.50" y1="101.30" x2="487.50" y2="91.36" stroke="#f4705f" stroke-width="0.7" opacity=".5"/>
<line x1="515.50" y1="54.62" x2="515.50" y2="101.30" stroke="#f4705f" stroke-width="0.8" stroke-dasharray=".7 1.5" opacity=".4"/>
<line x1="515.50" y1="75.84" x2="515.50" y2="101.30" stroke="#5a55c8" stroke-width="0.8" stroke-dasharray=".7 1.9" stroke-dashoffset="1" opacity=".35"/>
<line x1="515.50" y1="101.30" x2="515.50" y2="91.12" stroke="#f4705f" stroke-width="0.7" opacity=".5"/>
<path d="M459.6 57.8h0M459.6 66.3h0M459.6 82.3h0M459.6 75.2h0M459.6 64.3h0M459.6 62.6h0M459.6 82.3h0M459.6 82.9h0M459.6 82.5h0M459.6 92.1h0M459.6 93.3h0M459.6 94.3h0M459.6 83.7h0M459.6 84.2h0M459.6 86.5h0M459.6 84.0h0M459.6 86.5h0M459.6 91.0h0M459.6 93.5h0M459.6 84.9h0M459.6 92.1h0M459.6 90.6h0M459.6 89.3h0M459.6 94.5h0M459.6 91.4h0M459.6 91.1h0M459.6 90.0h0M459.6 99.3h0M459.6 93.0h0M459.6 97.7h0M459.6 96.6h0M459.6 101.2h0M459.6 98.5h0M459.6 98.3h0M459.6 95.1h0M459.6 99.1h0M459.6 95.8h0M459.6 97.4h0M459.6 94.1h0M459.6 100.9h0M459.6 100.4h0M459.6 101.3h0M459.6 95.2h0M459.6 92.9h0M459.6 101.3h0M459.6 97.9h0M459.6 97.8h0M459.6 94.8h0M459.6 100.3h0M459.6 97.8h0M459.6 99.1h0M459.6 94.5h0M459.6 99.8h0M459.6 93.2h0M459.6 99.6h0M459.6 100.1h0M459.6 95.8h0M459.6 97.8h0M459.6 100.8h0M459.6 96.5h0M459.6 101.0h0M459.6 95.9h0M459.6 94.9h0M459.6 96.6h0M487.5 18.5h0M487.5 49.0h0M487.5 57.8h0M487.5 28.1h0M487.5 32.9h0M487.5 36.3h0M487.5 29.4h0M487.5 37.2h0M487.5 39.0h0M487.5 77.6h0M487.5 81.1h0M487.5 73.3h0M487.5 86.4h0M487.5 69.4h0M487.5 71.2h0M487.5 73.2h0M487.5 82.7h0M487.5 78.4h0M487.5 77.6h0M487.5 73.4h0M487.5 78.7h0M487.5 72.1h0M487.5 65.8h0M487.5 84.3h0M487.5 72.6h0M487.5 69.6h0M487.5 79.2h0M487.5 76.7h0M487.5 75.4h0M487.5 99.8h0M487.5 86.0h0M487.5 94.2h0M487.5 100.5h0M487.5 93.2h0M487.5 93.8h0M487.5 90.5h0M487.5 92.0h0M487.5 88.3h0M487.5 94.2h0M487.5 96.1h0M487.5 85.9h0M487.5 99.1h0M487.5 91.2h0M487.5 96.4h0M487.5 100.2h0M487.5 85.1h0M487.5 100.9h0M487.5 98.2h0M487.5 96.3h0M487.5 96.0h0M487.5 95.9h0M487.5 90.9h0M487.5 97.0h0M487.5 98.4h0M487.5 98.9h0M487.5 90.1h0M487.5 94.1h0M487.5 99.0h0M487.5 88.9h0M487.5 96.4h0M487.5 99.1h0M487.5 100.1h0M487.5 89.4h0M487.5 88.7h0M487.5 92.1h0M515.5 44.1h0M515.5 42.2h0M515.5 27.1h0M515.5 67.0h0M515.5 28.1h0M515.5 41.1h0M515.5 36.3h0M515.5 28.1h0M515.5 79.0h0M515.5 77.9h0M515.5 64.1h0M515.5 86.6h0M515.5 72.3h0M515.5 72.4h0M515.5 87.8h0M515.5 73.0h0M515.5 64.9h0M515.5 80.2h0M515.5 63.6h0M515.5 75.6h0M515.5 76.2h0M515.5 65.7h0M515.5 70.3h0M515.5 72.6h0M515.5 79.9h0M515.5 66.6h0M515.5 75.2h0M515.5 89.2h0M515.5 99.1h0M515.5 95.5h0M515.5 95.8h0M515.5 93.4h0M515.5 88.0h0M515.5 97.9h0M515.5 88.0h0M515.5 96.1h0M515.5 98.2h0M515.5 94.3h0M515.5 84.9h0M515.5 91.5h0M515.5 88.8h0M515.5 97.3h0M515.5 97.5h0M515.5 97.8h0M515.5 92.8h0M515.5 91.9h0M515.5 88.9h0M515.5 101.0h0M515.5 90.2h0M515.5 86.8h0M515.5 93.6h0M515.5 101.0h0M515.5 97.7h0M515.5 99.3h0M515.5 92.4h0M515.5 91.4h0M515.5 88.8h0M515.5 86.3h0M515.5 92.3h0M515.5 92.2h0M515.5 92.1h0M515.5 90.7h0M515.5 92.6h0M515.5 91.0h0M515.5 99.0h0M515.5 91.3h0" stroke="#f4705f" stroke-width="0.95" stroke-linecap="round" fill="none" opacity=".72"/>
<path d="M459.6 69.8h0M459.6 64.4h0M459.6 63.2h0M459.6 93.4h0M459.6 93.5h0M459.6 85.4h0M459.6 94.2h0M459.6 100.1h0M459.6 94.6h0M459.6 100.2h0M459.6 94.9h0M487.5 35.3h0M487.5 78.5h0M487.5 64.7h0M487.5 87.9h0M487.5 89.3h0M487.5 94.4h0M487.5 89.7h0M487.5 97.0h0M487.5 101.2h0M487.5 86.0h0M515.5 45.5h0M515.5 71.2h0M515.5 87.7h0M515.5 79.2h0M515.5 76.5h0M515.5 94.3h0M515.5 101.3h0M515.5 86.0h0" stroke="#5a55c8" stroke-width="0.95" stroke-linecap="round" fill="none" opacity=".72"/>
<polyline points="459.60,77.66 487.50,66.65 515.50,55.76" fill="none" stroke="#f4705f" stroke-width="0.45" stroke-opacity="0.9"/>
<polyline points="459.60,83.54 487.50,74.89 515.50,65.94" fill="none" stroke="#f4705f" stroke-width="0.45" stroke-opacity="0.9"/>
<polyline points="459.60,97.33 487.50,84.53 515.50,72.15" fill="none" stroke="#f4705f" stroke-width="0.45" stroke-opacity="0.9"/>
<polyline points="459.60,98.28 487.50,90.12 515.50,81.43" fill="none" stroke="#f4705f" stroke-width="0.45" stroke-opacity="0.9"/>
<polyline points="459.60,82.71 487.50,89.34 515.50,94.55" fill="none" stroke="#5a55c8" stroke-width="0.45" stroke-opacity="0.9"/>
<polyline points="459.60,98.82 487.50,94.26 515.50,90.12" fill="none" stroke="#f4705f" stroke-width="0.45" stroke-opacity="0.9"/>
<polyline points="459.60,97.57 487.50,95.09 515.50,93.02" fill="none" stroke="#f4705f" stroke-width="0.45" stroke-opacity="0.9"/>
<polyline points="459.60,99.23 487.50,97.16 515.50,94.68" fill="none" stroke="#f4705f" stroke-width="0.45" stroke-opacity="0.9"/>
<polyline points="459.60,99.64 487.50,98.40 515.50,97.16" fill="none" stroke="#f4705f" stroke-width="0.45" stroke-opacity="0.9"/>
<polyline points="459.60,100.06 487.50,99.64 515.50,98.82" fill="none" stroke="#f4705f" stroke-width="0.45" stroke-opacity="0.9"/>
<polyline points="459.60,98.82 487.50,99.64 515.50,100.06" fill="none" stroke="#5a55c8" stroke-width="0.45" stroke-opacity="0.9"/>
<polyline points="459.60,100.06 487.50,100.47 515.50,100.47" fill="none" stroke="#5a55c8" stroke-width="0.45" stroke-opacity="0.9"/>
<polyline points="459.60,100.89 487.50,100.89 515.50,100.89" fill="none" stroke="#5a55c8" stroke-width="0.45" stroke-opacity="0.9"/>
<line x1="459.60" y1="101.40" x2="515.50" y2="101.40" stroke="#5a55c8" stroke-width="1.1" opacity=".75"/>
<rect x="442.80" y="4.40" width="89.50" height="11.40" fill="#eda8b3" stroke="#333" stroke-width="0.75" rx="0.6"/>
<text x="489.05" y="13.70" font-size="9.2" text-anchor="middle" transform="rotate(0.05 489.05 13.70)" fill="#222" stroke="#222" stroke-width="0.07">M.GExN</text>
<text x="455.40" y="84.60" font-size="6.4" text-anchor="end" transform="rotate(0.05 455.40 84.60)" fill="#000" stroke="#000" stroke-width="0.08">SEMA6A</text>
<line x1="456.30" y1="82.71" x2="459.60" y2="82.71" stroke="#111" stroke-width="0.55"/>
<text x="457.70" y="94.80" font-size="6.4" text-anchor="end" transform="rotate(0.05 457.70 94.80)" fill="#000" stroke="#000" stroke-width="0.08">CRISPLD1</text>
<line x1="458.60" y1="94.70" x2="459.60" y2="97.57" stroke="#111" stroke-width="0.55"/>
<text x="451.80" y="102.90" font-size="6.4" text-anchor="end" transform="rotate(0.05 451.80 102.90)" fill="#000" stroke="#000" stroke-width="0.08">SDC2</text>
<line x1="452.70" y1="100.47" x2="459.60" y2="100.47" stroke="#111" stroke-width="0.55"/>
<text x="521.10" y="56.60" font-size="6.4" transform="rotate(0.05 521.10 56.60)" fill="#000" stroke="#000" stroke-width="0.08">MDK</text>
<line x1="520.20" y1="55.76" x2="515.50" y2="55.76" stroke="#111" stroke-width="0.55"/>
<text x="518.10" y="63.40" font-size="6.4" transform="rotate(0.05 518.10 63.40)" fill="#000" stroke="#000" stroke-width="0.08">SERPINE2</text>
<line x1="517.20" y1="63.30" x2="515.50" y2="65.94" stroke="#111" stroke-width="0.55"/>
<text x="521.10" y="73.40" font-size="6.4" transform="rotate(0.05 521.10 73.40)" fill="#000" stroke="#000" stroke-width="0.08">CBLN2</text>
<line x1="520.20" y1="72.15" x2="515.50" y2="72.15" stroke="#111" stroke-width="0.55"/>
<line x1="569.30" y1="101.30" x2="671.90" y2="101.30" stroke="#eeeeee" stroke-width="0.55"/>
<text x="565.40" y="103.15" font-size="8" text-anchor="end" transform="rotate(0.05 565.40 103.15)" fill="#484848" stroke="#484848" stroke-width="0.07">0.0</text>
<line x1="569.30" y1="78.80" x2="671.90" y2="78.80" stroke="#eeeeee" stroke-width="0.55"/>
<text x="565.40" y="80.65" font-size="8" text-anchor="end" transform="rotate(0.05 565.40 80.65)" fill="#484848" stroke="#484848" stroke-width="0.07">0.5</text>
<line x1="569.30" y1="56.30" x2="671.90" y2="56.30" stroke="#eeeeee" stroke-width="0.55"/>
<text x="565.40" y="58.15" font-size="8" text-anchor="end" transform="rotate(0.05 565.40 58.15)" fill="#484848" stroke="#484848" stroke-width="0.07">1.0</text>
<line x1="569.30" y1="33.80" x2="671.90" y2="33.80" stroke="#eeeeee" stroke-width="0.55"/>
<text x="565.40" y="35.65" font-size="8" text-anchor="end" transform="rotate(0.05 565.40 35.65)" fill="#484848" stroke="#484848" stroke-width="0.07">1.5</text>
<line x1="599.60" y1="17.00" x2="599.60" y2="103.50" stroke="#eeeeee" stroke-width="0.55"/>
<line x1="627.60" y1="17.00" x2="627.60" y2="103.50" stroke="#eeeeee" stroke-width="0.55"/>
<line x1="655.60" y1="17.00" x2="655.60" y2="103.50" stroke="#eeeeee" stroke-width="0.55"/>
<line x1="599.60" y1="55.51" x2="599.60" y2="101.30" stroke="#5a55c8" stroke-width="0.8" stroke-dasharray=".7 1.5" opacity=".4"/>
<line x1="599.60" y1="76.32" x2="599.60" y2="101.30" stroke="#f4705f" stroke-width="0.8" stroke-dasharray=".7 1.9" stroke-dashoffset="1" opacity=".35"/>
<line x1="599.60" y1="101.30" x2="599.60" y2="91.31" stroke="#5a55c8" stroke-width="0.7" opacity=".5"/>
<line x1="627.60" y1="72.84" x2="627.60" y2="101.30" stroke="#5a55c8" stroke-width="0.8" stroke-dasharray=".7 1.5" opacity=".4"/>
<line x1="627.60" y1="85.78" x2="627.60" y2="101.30" stroke="#f4705f" stroke-width="0.8" stroke-dasharray=".7 1.9" stroke-dashoffset="1" opacity=".35"/>
<line x1="627.60" y1="101.30" x2="627.60" y2="95.09" stroke="#5a55c8" stroke-width="0.7" opacity=".5"/>
<line x1="655.60" y1="70.36" x2="655.60" y2="101.30" stroke="#f4705f" stroke-width="0.8" stroke-dasharray=".7 1.5" opacity=".4"/>
<line x1="655.60" y1="84.42" x2="655.60" y2="101.30" stroke="#5a55c8" stroke-width="0.8" stroke-dasharray=".7 1.9" stroke-dashoffset="1" opacity=".35"/>
<line x1="655.60" y1="101.30" x2="655.60" y2="94.55" stroke="#5a55c8" stroke-width="0.7" opacity=".5"/>
<path d="M599.6 47.9h0M599.6 37.0h0M599.6 72.7h0M599.6 79.2h0M599.6 64.5h0M599.6 71.2h0M599.6 68.1h0M599.6 97.7h0M599.6 95.8h0M599.6 91.1h0M599.6 88.7h0M599.6 95.9h0M599.6 93.0h0M599.6 88.6h0M599.6 86.5h0M599.6 97.1h0M599.6 100.6h0M599.6 93.6h0M599.6 88.9h0M599.6 99.2h0M627.6 63.6h0M627.6 89.5h0M627.6 84.8h0M627.6 83.6h0M627.6 87.4h0M627.6 91.1h0M627.6 78.5h0M627.6 78.1h0M627.6 90.1h0M627.6 89.6h0M627.6 88.1h0M627.6 79.5h0M627.6 92.8h0M627.6 94.7h0M627.6 101.1h0M627.6 94.1h0M627.6 91.8h0M627.6 95.1h0M627.6 99.1h0M627.6 98.9h0M627.6 99.5h0M627.6 97.3h0M627.6 99.7h0M627.6 95.1h0M627.6 94.6h0M627.6 100.1h0M627.6 101.2h0M627.6 91.8h0M627.6 92.7h0M627.6 100.5h0M627.6 100.8h0M655.6 45.0h0M655.6 73.2h0M655.6 55.0h0M655.6 72.7h0M655.6 76.3h0M655.6 60.0h0M655.6 84.5h0M655.6 88.2h0M655.6 89.4h0M655.6 82.5h0M655.6 79.2h0M655.6 91.8h0M655.6 80.5h0M655.6 86.0h0M655.6 80.7h0M655.6 91.9h0M655.6 79.2h0M655.6 87.2h0M655.6 78.7h0M655.6 78.3h0M655.6 101.3h0M655.6 91.3h0M655.6 91.9h0M655.6 92.4h0M655.6 98.2h0M655.6 98.2h0M655.6 95.6h0M655.6 97.4h0M655.6 96.5h0M655.6 100.6h0M655.6 94.0h0M655.6 93.5h0M655.6 101.0h0M655.6 96.8h0M655.6 96.6h0M655.6 96.3h0M655.6 101.2h0M655.6 90.5h0M655.6 99.7h0" stroke="#f4705f" stroke-width="0.95" stroke-linecap="round" fill="none" opacity=".72"/>
<path d="M599.6 18.0h0M599.6 51.2h0M599.6 41.7h0M599.6 61.4h0M599.6 31.5h0M599.6 51.4h0M599.6 73.1h0M599.6 78.4h0M599.6 69.2h0M599.6 65.2h0M599.6 69.2h0M599.6 74.7h0M599.6 81.5h0M599.6 87.3h0M599.6 80.5h0M599.6 73.7h0M599.6 64.4h0M599.6 68.1h0M599.6 73.8h0M599.6 87.0h0M599.6 96.6h0M599.6 92.7h0M599.6 86.9h0M599.6 98.1h0M599.6 101.3h0M599.6 98.4h0M599.6 88.5h0M599.6 87.0h0M599.6 101.0h0M599.6 88.2h0M599.6 87.5h0M599.6 93.2h0M599.6 98.2h0M599.6 87.8h0M599.6 88.7h0M599.6 91.1h0M599.6 89.8h0M599.6 86.1h0M599.6 98.8h0M627.6 49.6h0M627.6 53.6h0M627.6 54.7h0M627.6 78.8h0M627.6 69.3h0M627.6 77.2h0M627.6 53.3h0M627.6 78.7h0M627.6 83.1h0M627.6 86.6h0M627.6 92.9h0M627.6 79.5h0M627.6 80.5h0M627.6 93.7h0M627.6 95.4h0M627.6 91.1h0M627.6 100.5h0M627.6 96.1h0M627.6 94.1h0M627.6 100.7h0M627.6 100.6h0M627.6 100.3h0M627.6 100.5h0M627.6 101.3h0M627.6 91.9h0M627.6 99.8h0M627.6 92.4h0M627.6 97.7h0M655.6 56.8h0M655.6 76.1h0M655.6 80.9h0M655.6 83.0h0M655.6 89.4h0M655.6 84.5h0M655.6 97.0h0M655.6 99.3h0M655.6 100.0h0M655.6 100.2h0M655.6 101.3h0M655.6 96.5h0M655.6 92.7h0M655.6 92.0h0M655.6 98.7h0M655.6 94.1h0M655.6 98.1h0M655.6 91.9h0M655.6 90.7h0M655.6 96.4h0" stroke="#5a55c8" stroke-width="0.95" stroke-linecap="round" fill="none" opacity=".72"/>
<polyline points="599.60,81.50 627.60,82.40 655.60,83.30" fill="none" stroke="#5a55c8" stroke-width="0.45" stroke-opacity="0.9"/>
<polyline points="599.60,85.86 627.60,82.17 655.60,78.35" fill="none" stroke="#f4705f" stroke-width="0.45" stroke-opacity="0.9"/>
<polyline points="599.60,99.63 627.60,90.05 655.60,80.78" fill="none" stroke="#f4705f" stroke-width="0.45" stroke-opacity="0.9"/>
<polyline points="599.60,99.23 627.60,94.82 655.60,89.33" fill="none" stroke="#f4705f" stroke-width="0.45" stroke-opacity="0.9"/>
<polyline points="599.60,93.20 627.60,95.54 655.60,97.56" fill="none" stroke="#5a55c8" stroke-width="0.45" stroke-opacity="0.9"/>
<polyline points="599.60,94.82 627.60,97.70 655.60,99.95" fill="none" stroke="#5a55c8" stroke-width="0.45" stroke-opacity="0.9"/>
<polyline points="599.60,95.45 627.60,94.55 655.60,95.90" fill="none" stroke="#5a55c8" stroke-width="0.45" stroke-opacity="0.9"/>
<polyline points="599.60,98.60 627.60,96.80 655.60,93.20" fill="none" stroke="#f4705f" stroke-width="0.45" stroke-opacity="0.9"/>
<polyline points="599.60,99.05 627.60,98.15 655.60,95.45" fill="none" stroke="#f4705f" stroke-width="0.45" stroke-opacity="0.9"/>
<polyline points="599.60,99.95 627.60,99.05 655.60,97.25" fill="none" stroke="#f4705f" stroke-width="0.45" stroke-opacity="0.9"/>
<polyline points="599.60,97.70 627.60,98.60 655.60,96.80" fill="none" stroke="#f4705f" stroke-width="0.45" stroke-opacity="0.9"/>
<polyline points="599.60,97.25 627.60,99.05 655.60,98.60" fill="none" stroke="#5a55c8" stroke-width="0.45" stroke-opacity="0.9"/>
<polyline points="599.60,99.05 627.60,99.95 655.60,99.50" fill="none" stroke="#5a55c8" stroke-width="0.45" stroke-opacity="0.9"/>
<polyline points="599.60,100.40 627.60,100.40 655.60,100.85" fill="none" stroke="#5a55c8" stroke-width="0.45" stroke-opacity="0.9"/>
<polyline points="599.60,100.40 627.60,99.95 655.60,99.05" fill="none" stroke="#f4705f" stroke-width="0.45" stroke-opacity="0.9"/>
<line x1="599.60" y1="101.40" x2="655.60" y2="101.40" stroke="#5a55c8" stroke-width="1.1" opacity=".75"/>
<rect x="582.90" y="4.40" width="89.00" height="11.40" fill="#c9dcf2" stroke="#333" stroke-width="0.75" rx="0.6"/>
<text x="626.90" y="13.70" font-size="9.2" text-anchor="middle" transform="rotate(0.05 626.90 13.70)" fill="#222" stroke="#222" stroke-width="0.07">Unspecific neuron</text>
<text x="594.40" y="82.90" font-size="6.4" text-anchor="end" transform="rotate(0.05 594.40 82.90)" fill="#000" stroke="#000" stroke-width="0.08">SFRP1</text>
<line x1="595.30" y1="81.50" x2="599.60" y2="81.50" stroke="#111" stroke-width="0.55"/>
<text x="593.60" y="91.80" font-size="6.4" text-anchor="end" transform="rotate(0.05 593.60 91.80)" fill="#000" stroke="#000" stroke-width="0.08">SPARC</text>
<line x1="594.50" y1="91.70" x2="599.60" y2="93.20" stroke="#111" stroke-width="0.55"/>
<text x="592.70" y="99.90" font-size="6.4" text-anchor="end" transform="rotate(0.05 592.70 99.90)" fill="#000" stroke="#000" stroke-width="0.08">CXCL12</text>
<line x1="593.60" y1="95.40" x2="599.60" y2="94.82" stroke="#111" stroke-width="0.55"/>
<text x="660.80" y="78.10" font-size="6.4" transform="rotate(0.05 660.80 78.10)" fill="#000" stroke="#000" stroke-width="0.08">MFAP1</text>
<line x1="659.90" y1="78.00" x2="655.60" y2="78.35" stroke="#111" stroke-width="0.55"/>
<text x="660.80" y="84.90" font-size="6.4" transform="rotate(0.05 660.80 84.90)" fill="#000" stroke="#000" stroke-width="0.08">PRSS12</text>
<line x1="659.90" y1="80.78" x2="655.60" y2="80.78" stroke="#111" stroke-width="0.55"/>
<text x="660.80" y="92.10" font-size="6.4" transform="rotate(0.05 660.80 92.10)" fill="#000" stroke="#000" stroke-width="0.08">LTBP3</text>
<line x1="659.90" y1="89.33" x2="655.60" y2="89.33" stroke="#111" stroke-width="0.55"/>
<line x1="36.60" y1="206.70" x2="141.00" y2="206.70" stroke="#eeeeee" stroke-width="0.55"/>
<text x="33.90" y="208.55" font-size="8" text-anchor="end" transform="rotate(0.05 33.90 208.55)" fill="#484848" stroke="#484848" stroke-width="0.07">0.0</text>
<line x1="36.60" y1="175.05" x2="141.00" y2="175.05" stroke="#eeeeee" stroke-width="0.55"/>
<text x="33.90" y="176.90" font-size="8" text-anchor="end" transform="rotate(0.05 33.90 176.90)" fill="#484848" stroke="#484848" stroke-width="0.07">0.5</text>
<line x1="36.60" y1="143.40" x2="141.00" y2="143.40" stroke="#eeeeee" stroke-width="0.55"/>
<text x="33.90" y="145.25" font-size="8" text-anchor="end" transform="rotate(0.05 33.90 145.25)" fill="#484848" stroke="#484848" stroke-width="0.07">1.0</text>
<line x1="67.70" y1="122.50" x2="67.70" y2="208.90" stroke="#eeeeee" stroke-width="0.55"/>
<line x1="95.60" y1="122.50" x2="95.60" y2="208.90" stroke="#eeeeee" stroke-width="0.55"/>
<line x1="123.50" y1="122.50" x2="123.50" y2="208.90" stroke="#eeeeee" stroke-width="0.55"/>
<line x1="67.70" y1="161.44" x2="67.70" y2="206.70" stroke="#5a55c8" stroke-width="0.8" stroke-dasharray=".7 1.5" opacity=".4"/>
<line x1="67.70" y1="182.01" x2="67.70" y2="206.70" stroke="#f4705f" stroke-width="0.8" stroke-dasharray=".7 1.9" stroke-dashoffset="1" opacity=".35"/>
<line x1="67.70" y1="206.70" x2="67.70" y2="196.83" stroke="#5a55c8" stroke-width="0.7" opacity=".5"/>
<line x1="95.60" y1="174.67" x2="95.60" y2="206.70" stroke="#f4705f" stroke-width="0.8" stroke-dasharray=".7 1.5" opacity=".4"/>
<line x1="95.60" y1="189.23" x2="95.60" y2="206.70" stroke="#5a55c8" stroke-width="0.8" stroke-dasharray=".7 1.9" stroke-dashoffset="1" opacity=".35"/>
<line x1="95.60" y1="206.70" x2="95.60" y2="199.71" stroke="#5a55c8" stroke-width="0.7" opacity=".5"/>
<line x1="123.50" y1="171.88" x2="123.50" y2="206.70" stroke="#f4705f" stroke-width="0.8" stroke-dasharray=".7 1.5" opacity=".4"/>
<line x1="123.50" y1="187.71" x2="123.50" y2="206.70" stroke="#5a55c8" stroke-width="0.8" stroke-dasharray=".7 1.9" stroke-dashoffset="1" opacity=".35"/>
<line x1="123.50" y1="206.70" x2="123.50" y2="199.10" stroke="#f4705f" stroke-width="0.7" opacity=".5"/>
<path d="M67.7 124.4h0M67.7 172.8h0M67.7 138.6h0M67.7 145.1h0M67.7 172.5h0M67.7 172.5h0M67.7 187.8h0M67.7 177.6h0M67.7 171.5h0M67.7 179.0h0M67.7 183.6h0M67.7 170.9h0M67.7 187.3h0M67.7 203.4h0M67.7 203.4h0M67.7 200.7h0M67.7 203.1h0M67.7 204.1h0M67.7 199.8h0M67.7 202.0h0M95.6 167.4h0M95.6 169.2h0M95.6 177.5h0M95.6 173.7h0M95.6 178.8h0M95.6 165.0h0M95.6 164.8h0M95.6 192.3h0M95.6 181.2h0M95.6 194.4h0M95.6 182.1h0M95.6 197.1h0M95.6 188.1h0M95.6 181.9h0M95.6 188.6h0M95.6 180.5h0M95.6 188.9h0M95.6 201.8h0M95.6 203.3h0M95.6 200.8h0M95.6 203.7h0M95.6 195.8h0M95.6 199.7h0M95.6 206.1h0M95.6 203.5h0M95.6 203.2h0M95.6 201.2h0M95.6 202.1h0M95.6 202.7h0M95.6 195.1h0M95.6 201.6h0M95.6 197.8h0M95.6 205.5h0M95.6 204.1h0M95.6 197.6h0M95.6 201.8h0M95.6 206.0h0M95.6 196.6h0M95.6 199.5h0M95.6 195.2h0M123.5 148.0h0M123.5 159.8h0M123.5 172.7h0M123.5 179.8h0M123.5 149.0h0M123.5 151.6h0M123.5 191.2h0M123.5 181.7h0M123.5 191.4h0M123.5 185.8h0M123.5 179.0h0M123.5 187.8h0M123.5 192.6h0M123.5 189.8h0M123.5 183.6h0M123.5 193.0h0M123.5 191.3h0M123.5 180.6h0M123.5 188.0h0M123.5 182.2h0M123.5 192.6h0M123.5 193.9h0M123.5 203.4h0M123.5 205.3h0M123.5 204.2h0M123.5 200.7h0M123.5 205.9h0M123.5 201.1h0M123.5 203.0h0M123.5 202.8h0M123.5 206.3h0M123.5 205.9h0M123.5 196.8h0M123.5 203.5h0M123.5 204.7h0M123.5 205.2h0M123.5 204.2h0M123.5 204.8h0M123.5 199.3h0M123.5 198.7h0M123.5 206.1h0M123.5 204.4h0M123.5 196.7h0M123.5 205.8h0M123.5 202.3h0M123.5 196.7h0M123.5 197.2h0M123.5 205.5h0M123.5 203.4h0M123.5 203.1h0" stroke="#f4705f" stroke-width="0.95" stroke-linecap="round" fill="none" opacity=".72"/>
<path d="M67.7 150.9h0M67.7 167.5h0M67.7 129.9h0M67.7 131.4h0M67.7 174.4h0M67.7 193.5h0M67.7 178.5h0M67.7 187.6h0M67.7 181.0h0M67.7 188.2h0M67.7 181.5h0M67.7 186.8h0M67.7 178.4h0M67.7 205.7h0M67.7 198.3h0M67.7 191.2h0M67.7 199.8h0M67.7 203.7h0M67.7 200.6h0M67.7 199.4h0M67.7 205.3h0M67.7 205.6h0M67.7 205.5h0M67.7 201.6h0M67.7 204.1h0M67.7 206.0h0M67.7 199.2h0M67.7 193.6h0M67.7 198.0h0M67.7 198.8h0M67.7 197.3h0M67.7 204.7h0M67.7 196.1h0M67.7 199.2h0M67.7 198.0h0M67.7 200.6h0M67.7 204.4h0M67.7 198.5h0M67.7 206.6h0M95.6 148.5h0M95.6 196.4h0M95.6 181.9h0M95.6 183.2h0M95.6 183.3h0M95.6 190.5h0M95.6 197.8h0M95.6 189.3h0M95.6 184.5h0M95.6 199.6h0M95.6 203.6h0M95.6 201.7h0M95.6 201.0h0M95.6 196.8h0M95.6 195.6h0M95.6 200.4h0M95.6 203.8h0M95.6 195.4h0M95.6 197.7h0M123.5 143.4h0M123.5 166.1h0M123.5 180.1h0M123.5 179.2h0M123.5 194.5h0M123.5 206.5h0M123.5 203.6h0M123.5 205.6h0M123.5 198.4h0" stroke="#5a55c8" stroke-width="0.95" stroke-linecap="round" fill="none" opacity=".72"/>
<polyline points="67.70,178.21 95.60,167.26 123.50,158.59" fill="none" stroke="#f4705f" stroke-width="0.45" stroke-opacity="0.9"/>
<polyline points="67.70,204.36 95.60,188.53 123.50,171.38" fill="none" stroke="#f4705f" stroke-width="0.45" stroke-opacity="0.9"/>
<polyline points="67.70,172.07 95.60,180.30 123.50,188.34" fill="none" stroke="#5a55c8" stroke-width="0.45" stroke-opacity="0.9"/>
<polyline points="67.70,202.27 95.60,196.83 123.50,191.32" fill="none" stroke="#f4705f" stroke-width="0.45" stroke-opacity="0.9"/>
<polyline points="67.70,194.04 95.60,198.22 123.50,202.27" fill="none" stroke="#5a55c8" stroke-width="0.45" stroke-opacity="0.9"/>
<polyline points="67.70,194.74 95.60,197.52 123.50,199.29" fill="none" stroke="#5a55c8" stroke-width="0.45" stroke-opacity="0.9"/>
<polyline points="67.70,200.37 95.60,197.20 123.50,193.41" fill="none" stroke="#f4705f" stroke-width="0.45" stroke-opacity="0.9"/>
<polyline points="67.70,199.10 95.60,198.47 123.50,194.67" fill="none" stroke="#f4705f" stroke-width="0.45" stroke-opacity="0.9"/>
<polyline points="67.70,202.90 95.60,200.37 123.50,195.94" fill="none" stroke="#f4705f" stroke-width="0.45" stroke-opacity="0.9"/>
<polyline points="67.70,203.53 95.60,201.64 123.50,197.84" fill="none" stroke="#f4705f" stroke-width="0.45" stroke-opacity="0.9"/>
<polyline points="67.70,204.80 95.60,202.90 123.50,199.74" fill="none" stroke="#f4705f" stroke-width="0.45" stroke-opacity="0.9"/>
<polyline points="67.70,197.84 95.60,200.37 123.50,201.64" fill="none" stroke="#f4705f" stroke-width="0.45" stroke-opacity="0.9"/>
<polyline points="67.70,205.43 95.60,204.17 123.50,202.90" fill="none" stroke="#f4705f" stroke-width="0.45" stroke-opacity="0.9"/>
<polyline points="67.70,202.90 95.60,204.17 123.50,204.80" fill="none" stroke="#5a55c8" stroke-width="0.45" stroke-opacity="0.9"/>
<polyline points="67.70,204.80 95.60,205.43 123.50,205.43" fill="none" stroke="#5a55c8" stroke-width="0.45" stroke-opacity="0.9"/>
<polyline points="67.70,206.07 95.60,206.07 123.50,206.07" fill="none" stroke="#5a55c8" stroke-width="0.45" stroke-opacity="0.9"/>
<line x1="67.70" y1="206.80" x2="123.50" y2="206.80" stroke="#5a55c8" stroke-width="1.1" opacity=".75"/>
<rect x="51.40" y="110.50" width="89.60" height="10.90" fill="#ebcbb8" stroke="#333" stroke-width="0.75" rx="0.6"/>
<text x="98.10" y="119.60" font-size="9.2" text-anchor="middle" transform="rotate(0.05 98.10 119.60)" fill="#222" stroke="#222" stroke-width="0.07">GABA IN</text>
<text x="62.00" y="174.40" font-size="6.4" text-anchor="end" transform="rotate(0.05 62.00 174.40)" fill="#000" stroke="#000" stroke-width="0.08">PXDN</text>
<line x1="62.90" y1="172.07" x2="67.70" y2="172.07" stroke="#111" stroke-width="0.55"/>
<text x="65.80" y="189.20" font-size="6.4" text-anchor="end" transform="rotate(0.05 65.80 189.20)" fill="#000" stroke="#000" stroke-width="0.08">C1QTNF3</text>
<line x1="66.70" y1="189.10" x2="67.70" y2="194.04" stroke="#111" stroke-width="0.55"/>
<text x="61.60" y="199.50" font-size="6.4" text-anchor="end" transform="rotate(0.05 61.60 199.50)" fill="#000" stroke="#000" stroke-width="0.08">SPP1</text>
<line x1="62.50" y1="195.00" x2="67.70" y2="194.74" stroke="#111" stroke-width="0.55"/>
<text x="128.90" y="160.80" font-size="6.4" transform="rotate(0.05 128.90 160.80)" fill="#000" stroke="#000" stroke-width="0.08">CSTB</text>
<line x1="128.00" y1="158.59" x2="123.50" y2="158.59" stroke="#111" stroke-width="0.55"/>
<text x="129.90" y="172.90" font-size="6.4" transform="rotate(0.05 129.90 172.90)" fill="#000" stroke="#000" stroke-width="0.08">IGF1</text>
<line x1="129.00" y1="171.38" x2="123.50" y2="171.38" stroke="#111" stroke-width="0.55"/>
<text x="128.90" y="192.80" font-size="6.4" transform="rotate(0.05 128.90 192.80)" fill="#000" stroke="#000" stroke-width="0.08">LGALS1</text>
<line x1="128.00" y1="191.32" x2="123.50" y2="191.32" stroke="#111" stroke-width="0.55"/>
<text x="68.80" y="220.00" font-size="8" text-anchor="middle" transform="rotate(0.05 68.80 220.00)" fill="#484848" stroke="#484848" stroke-width="0.07">Late-</text>
<text x="59.65" y="229.30" font-size="8" transform="rotate(0.05 59.65 229.30)" fill="#484848" stroke="#484848" stroke-width="0.07">first</text>
<text x="96.00" y="220.00" font-size="8" text-anchor="middle" transform="rotate(0.05 96.00 220.00)" fill="#484848" stroke="#484848" stroke-width="0.07">Early-</text>
<text x="96.00" y="229.30" font-size="8" text-anchor="middle" transform="rotate(0.05 96.00 229.30)" fill="#484848" stroke="#484848" stroke-width="0.07">second</text>
<text x="123.90" y="220.00" font-size="8" text-anchor="middle" transform="rotate(0.05 123.90 220.00)" fill="#484848" stroke="#484848" stroke-width="0.07">Late-</text>
<text x="123.90" y="229.30" font-size="8" text-anchor="middle" transform="rotate(0.05 123.90 229.30)" fill="#484848" stroke="#484848" stroke-width="0.07">second</text>
<line x1="169.10" y1="206.70" x2="270.90" y2="206.70" stroke="#eeeeee" stroke-width="0.55"/>
<text x="166.80" y="208.55" font-size="8" text-anchor="end" transform="rotate(0.05 166.80 208.55)" fill="#484848" stroke="#484848" stroke-width="0.07">0.0</text>
<line x1="169.10" y1="187.30" x2="270.90" y2="187.30" stroke="#eeeeee" stroke-width="0.55"/>
<text x="166.80" y="189.15" font-size="8" text-anchor="end" transform="rotate(0.05 166.80 189.15)" fill="#484848" stroke="#484848" stroke-width="0.07">0.5</text>
<line x1="169.10" y1="167.90" x2="270.90" y2="167.90" stroke="#eeeeee" stroke-width="0.55"/>
<text x="166.80" y="169.75" font-size="8" text-anchor="end" transform="rotate(0.05 166.80 169.75)" fill="#484848" stroke="#484848" stroke-width="0.07">1.0</text>
<line x1="169.10" y1="148.50" x2="270.90" y2="148.50" stroke="#eeeeee" stroke-width="0.55"/>
<text x="166.80" y="150.35" font-size="8" text-anchor="end" transform="rotate(0.05 166.80 150.35)" fill="#484848" stroke="#484848" stroke-width="0.07">1.5</text>
<line x1="169.10" y1="129.10" x2="270.90" y2="129.10" stroke="#eeeeee" stroke-width="0.55"/>
<text x="166.80" y="130.95" font-size="8" text-anchor="end" transform="rotate(0.05 166.80 130.95)" fill="#484848" stroke="#484848" stroke-width="0.07">2.0</text>
<line x1="198.00" y1="122.50" x2="198.00" y2="208.90" stroke="#eeeeee" stroke-width="0.55"/>
<line x1="225.80" y1="122.50" x2="225.80" y2="208.90" stroke="#eeeeee" stroke-width="0.55"/>
<line x1="253.60" y1="122.50" x2="253.60" y2="208.90" stroke="#eeeeee" stroke-width="0.55"/>
<line x1="198.00" y1="177.89" x2="198.00" y2="206.70" stroke="#5a55c8" stroke-width="0.8" stroke-dasharray=".7 1.5" opacity=".4"/>
<line x1="198.00" y1="190.99" x2="198.00" y2="206.70" stroke="#f4705f" stroke-width="0.8" stroke-dasharray=".7 1.9" stroke-dashoffset="1" opacity=".35"/>
<line x1="198.00" y1="206.70" x2="198.00" y2="200.41" stroke="#5a55c8" stroke-width="0.7" opacity=".5"/>
<line x1="225.80" y1="182.80" x2="225.80" y2="206.70" stroke="#f4705f" stroke-width="0.8" stroke-dasharray=".7 1.5" opacity=".4"/>
<line x1="225.80" y1="193.66" x2="225.80" y2="206.70" stroke="#5a55c8" stroke-width="0.8" stroke-dasharray=".7 1.9" stroke-dashoffset="1" opacity=".35"/>
<line x1="225.80" y1="206.70" x2="225.80" y2="201.49" stroke="#5a55c8" stroke-width="0.7" opacity=".5"/>
<line x1="253.60" y1="161.89" x2="253.60" y2="206.70" stroke="#f4705f" stroke-width="0.8" stroke-dasharray=".7 1.5" opacity=".4"/>
<line x1="253.60" y1="182.26" x2="253.60" y2="206.70" stroke="#5a55c8" stroke-width="0.8" stroke-dasharray=".7 1.9" stroke-dashoffset="1" opacity=".35"/>
<line x1="253.60" y1="206.70" x2="253.60" y2="196.92" stroke="#f4705f" stroke-width="0.7" opacity=".5"/>
<path d="M198.0 167.6h0M198.0 159.5h0M198.0 196.3h0M198.0 195.7h0M198.0 194.1h0M198.0 192.9h0M198.0 198.2h0M198.0 194.0h0M198.0 188.8h0M198.0 189.9h0M198.0 187.6h0M198.0 192.0h0M198.0 193.4h0M198.0 198.8h0M198.0 199.2h0M198.0 206.5h0M198.0 205.0h0M198.0 206.3h0M198.0 200.2h0M198.0 203.6h0M198.0 199.5h0M198.0 198.5h0M198.0 204.7h0M198.0 206.2h0M198.0 203.3h0M198.0 197.2h0M198.0 200.2h0M198.0 198.5h0M198.0 201.0h0M198.0 203.0h0M198.0 206.5h0M198.0 202.3h0M225.8 163.2h0M225.8 178.9h0M225.8 184.8h0M225.8 189.1h0M225.8 188.2h0M225.8 191.8h0M225.8 192.0h0M225.8 197.0h0M225.8 198.4h0M225.8 199.8h0M225.8 190.1h0M225.8 189.2h0M225.8 196.3h0M225.8 197.8h0M225.8 191.9h0M225.8 189.2h0M225.8 199.9h0M225.8 202.7h0M225.8 204.3h0M225.8 205.3h0M225.8 202.5h0M225.8 202.0h0M225.8 201.2h0M225.8 199.1h0M225.8 203.2h0M225.8 203.2h0M225.8 204.9h0M225.8 202.4h0M225.8 206.4h0M225.8 201.4h0M225.8 205.9h0M225.8 203.7h0M225.8 198.3h0M225.8 206.3h0M225.8 203.7h0M225.8 205.7h0M253.6 125.2h0M253.6 162.7h0M253.6 169.9h0M253.6 162.8h0M253.6 149.3h0M253.6 164.0h0M253.6 180.5h0M253.6 191.7h0M253.6 180.1h0M253.6 192.5h0M253.6 184.5h0M253.6 192.7h0M253.6 173.4h0M253.6 181.0h0M253.6 177.0h0M253.6 176.0h0M253.6 191.7h0M253.6 170.3h0M253.6 192.0h0M253.6 174.2h0M253.6 191.2h0M253.6 199.0h0M253.6 195.0h0M253.6 205.5h0M253.6 204.2h0M253.6 202.2h0M253.6 198.4h0M253.6 204.5h0M253.6 203.3h0M253.6 196.3h0M253.6 192.7h0M253.6 193.1h0M253.6 199.0h0M253.6 192.1h0M253.6 193.1h0M253.6 195.6h0M253.6 202.7h0M253.6 195.2h0M253.6 196.8h0M253.6 194.0h0M253.6 205.6h0M253.6 202.2h0M253.6 195.7h0M253.6 191.5h0M253.6 196.0h0M253.6 206.4h0" stroke="#f4705f" stroke-width="0.95" stroke-linecap="round" fill="none" opacity=".72"/>
<path d="M198.0 154.3h0M198.0 180.5h0M198.0 182.4h0M198.0 164.6h0M198.0 165.2h0M198.0 184.6h0M198.0 198.2h0M198.0 196.0h0M198.0 185.7h0M198.0 194.8h0M198.0 188.1h0M198.0 185.7h0M198.0 204.6h0M198.0 198.2h0M198.0 201.2h0M198.0 206.5h0M198.0 206.1h0M198.0 199.0h0M198.0 205.3h0M198.0 197.4h0M198.0 199.5h0M198.0 196.9h0M198.0 199.6h0M198.0 200.1h0M198.0 203.2h0M198.0 197.2h0M198.0 206.0h0M225.8 175.8h0M225.8 186.7h0M225.8 177.6h0M225.8 176.3h0M225.8 188.0h0M225.8 191.7h0M225.8 196.9h0M225.8 188.1h0M225.8 198.0h0M225.8 190.0h0M225.8 199.9h0M225.8 200.8h0M225.8 204.7h0M225.8 205.7h0M225.8 204.7h0M225.8 204.3h0M225.8 199.9h0M225.8 206.6h0M225.8 200.0h0M225.8 198.6h0M225.8 205.9h0M225.8 206.6h0M225.8 201.0h0M253.6 150.3h0M253.6 152.2h0M253.6 181.9h0M253.6 183.7h0M253.6 176.8h0M253.6 184.9h0M253.6 205.1h0M253.6 195.0h0M253.6 206.3h0M253.6 206.6h0M253.6 201.3h0M253.6 197.9h0M253.6 205.1h0" stroke="#5a55c8" stroke-width="0.95" stroke-linecap="round" fill="none" opacity=".72"/>
<polyline points="198.00,162.47 225.80,176.86 253.60,191.99" fill="none" stroke="#5a55c8" stroke-width="0.45" stroke-opacity="0.9"/>
<polyline points="198.00,206.70 225.80,191.99 253.60,175.89" fill="none" stroke="#f4705f" stroke-width="0.45" stroke-opacity="0.9"/>
<polyline points="198.00,206.20 225.80,196.15 253.60,186.21" fill="none" stroke="#f4705f" stroke-width="0.45" stroke-opacity="0.9"/>
<polyline points="198.00,194.09 225.80,193.39 253.60,191.57" fill="none" stroke="#f4705f" stroke-width="0.45" stroke-opacity="0.9"/>
<polyline points="198.00,195.06 225.80,193.90 253.60,188.58" fill="none" stroke="#f4705f" stroke-width="0.45" stroke-opacity="0.9"/>
<polyline points="198.00,196.22 225.80,194.67 253.60,190.79" fill="none" stroke="#f4705f" stroke-width="0.45" stroke-opacity="0.9"/>
<polyline points="198.00,199.99 225.80,202.32 253.60,203.71" fill="none" stroke="#5a55c8" stroke-width="0.45" stroke-opacity="0.9"/>
<polyline points="198.00,205.92 225.80,202.43 253.60,198.94" fill="none" stroke="#f4705f" stroke-width="0.45" stroke-opacity="0.9"/>
<polyline points="198.00,206.12 225.80,203.21 253.60,200.10" fill="none" stroke="#f4705f" stroke-width="0.45" stroke-opacity="0.9"/>
<polyline points="198.00,206.31 225.80,203.98 253.60,201.66" fill="none" stroke="#f4705f" stroke-width="0.45" stroke-opacity="0.9"/>
<polyline points="198.00,205.54 225.80,203.60 253.60,202.43" fill="none" stroke="#f4705f" stroke-width="0.45" stroke-opacity="0.9"/>
<polyline points="198.00,206.31 225.80,205.15 253.60,203.60" fill="none" stroke="#f4705f" stroke-width="0.45" stroke-opacity="0.9"/>
<polyline points="198.00,205.92 225.80,205.92 253.60,205.92" fill="none" stroke="#5a55c8" stroke-width="0.45" stroke-opacity="0.9"/>
<polyline points="198.00,206.31 225.80,206.31 253.60,206.51" fill="none" stroke="#5a55c8" stroke-width="0.45" stroke-opacity="0.9"/>
<line x1="198.00" y1="206.80" x2="253.60" y2="206.80" stroke="#5a55c8" stroke-width="1.1" opacity=".75"/>
<rect x="181.40" y="110.50" width="89.50" height="10.90" fill="#cdb6d0" stroke="#333" stroke-width="0.75" rx="0.6"/>
<text x="227.65" y="119.60" font-size="9.2" text-anchor="middle" transform="rotate(0.05 227.65 119.60)" fill="#222" stroke="#222" stroke-width="0.07">Astrocyte</text>
<text x="192.50" y="165.10" font-size="6.4" text-anchor="end" transform="rotate(0.05 192.50 165.10)" fill="#000" stroke="#000" stroke-width="0.08">GPC1</text>
<line x1="193.40" y1="162.47" x2="198.00" y2="162.47" stroke="#111" stroke-width="0.55"/>
<text x="191.60" y="201.40" font-size="6.4" text-anchor="end" transform="rotate(0.05 191.60 201.40)" fill="#000" stroke="#000" stroke-width="0.08">LOXL1</text>
<line x1="192.50" y1="199.99" x2="198.00" y2="199.99" stroke="#111" stroke-width="0.55"/>
<text x="192.50" y="208.70" font-size="6.4" text-anchor="end" transform="rotate(0.05 192.50 208.70)" fill="#000" stroke="#000" stroke-width="0.08">NID2</text>
<line x1="193.40" y1="206.31" x2="198.00" y2="206.31" stroke="#111" stroke-width="0.55"/>
<text x="259.00" y="177.90" font-size="6.4" transform="rotate(0.05 259.00 177.90)" fill="#000" stroke="#000" stroke-width="0.08">NPNT</text>
<line x1="258.10" y1="175.89" x2="253.60" y2="175.89" stroke="#111" stroke-width="0.55"/>
<text x="259.00" y="187.00" font-size="6.4" transform="rotate(0.05 259.00 187.00)" fill="#000" stroke="#000" stroke-width="0.08">TGFB2</text>
<line x1="258.10" y1="186.21" x2="253.60" y2="186.21" stroke="#111" stroke-width="0.55"/>
<text x="259.00" y="195.00" font-size="6.4" transform="rotate(0.05 259.00 195.00)" fill="#000" stroke="#000" stroke-width="0.08">VEGFB</text>
<line x1="258.10" y1="191.57" x2="253.60" y2="191.57" stroke="#111" stroke-width="0.55"/>
<text x="197.00" y="220.00" font-size="8" text-anchor="middle" transform="rotate(0.05 197.00 220.00)" fill="#484848" stroke="#484848" stroke-width="0.07">Late-</text>
<text x="187.85" y="229.30" font-size="8" transform="rotate(0.05 187.85 229.30)" fill="#484848" stroke="#484848" stroke-width="0.07">first</text>
<text x="223.40" y="220.00" font-size="8" text-anchor="middle" transform="rotate(0.05 223.40 220.00)" fill="#484848" stroke="#484848" stroke-width="0.07">Early-</text>
<text x="223.40" y="229.30" font-size="8" text-anchor="middle" transform="rotate(0.05 223.40 229.30)" fill="#484848" stroke="#484848" stroke-width="0.07">second</text>
<text x="250.90" y="220.00" font-size="8" text-anchor="middle" transform="rotate(0.05 250.90 220.00)" fill="#484848" stroke="#484848" stroke-width="0.07">Late-</text>
<text x="250.90" y="229.30" font-size="8" text-anchor="middle" transform="rotate(0.05 250.90 229.30)" fill="#484848" stroke="#484848" stroke-width="0.07">second</text>
<line x1="298.30" y1="206.70" x2="401.00" y2="206.70" stroke="#eeeeee" stroke-width="0.55"/>
<text x="295.70" y="208.55" font-size="8" text-anchor="end" transform="rotate(0.05 295.70 208.55)" fill="#484848" stroke="#484848" stroke-width="0.07">0</text>
<line x1="298.30" y1="182.25" x2="401.00" y2="182.25" stroke="#eeeeee" stroke-width="0.55"/>
<text x="295.70" y="184.10" font-size="8" text-anchor="end" transform="rotate(0.05 295.70 184.10)" fill="#484848" stroke="#484848" stroke-width="0.07">1</text>
<line x1="298.30" y1="157.80" x2="401.00" y2="157.80" stroke="#eeeeee" stroke-width="0.55"/>
<text x="295.70" y="159.65" font-size="8" text-anchor="end" transform="rotate(0.05 295.70 159.65)" fill="#484848" stroke="#484848" stroke-width="0.07">2</text>
<line x1="298.30" y1="133.35" x2="401.00" y2="133.35" stroke="#eeeeee" stroke-width="0.55"/>
<text x="295.70" y="135.20" font-size="8" text-anchor="end" transform="rotate(0.05 295.70 135.20)" fill="#484848" stroke="#484848" stroke-width="0.07">3</text>
<line x1="328.30" y1="122.50" x2="328.30" y2="208.90" stroke="#eeeeee" stroke-width="0.55"/>
<line x1="356.10" y1="122.50" x2="356.10" y2="208.90" stroke="#eeeeee" stroke-width="0.55"/>
<line x1="384.20" y1="122.50" x2="384.20" y2="208.90" stroke="#eeeeee" stroke-width="0.55"/>
<line x1="328.30" y1="167.70" x2="328.30" y2="206.70" stroke="#f4705f" stroke-width="0.8" stroke-dasharray=".7 1.5" opacity=".4"/>
<line x1="328.30" y1="185.43" x2="328.30" y2="206.70" stroke="#5a55c8" stroke-width="0.8" stroke-dasharray=".7 1.9" stroke-dashoffset="1" opacity=".35"/>
<line x1="328.30" y1="206.70" x2="328.30" y2="198.19" stroke="#f4705f" stroke-width="0.7" opacity=".5"/>
<line x1="356.10" y1="162.32" x2="356.10" y2="206.70" stroke="#f4705f" stroke-width="0.8" stroke-dasharray=".7 1.5" opacity=".4"/>
<line x1="356.10" y1="182.49" x2="356.10" y2="206.70" stroke="#5a55c8" stroke-width="0.8" stroke-dasharray=".7 1.9" stroke-dashoffset="1" opacity=".35"/>
<line x1="356.10" y1="206.70" x2="356.10" y2="197.02" stroke="#f4705f" stroke-width="0.7" opacity=".5"/>
<line x1="384.20" y1="163.67" x2="384.20" y2="206.70" stroke="#f4705f" stroke-width="0.8" stroke-dasharray=".7 1.5" opacity=".4"/>
<line x1="384.20" y1="183.23" x2="384.20" y2="206.70" stroke="#5a55c8" stroke-width="0.8" stroke-dasharray=".7 1.9" stroke-dashoffset="1" opacity=".35"/>
<line x1="384.20" y1="206.70" x2="384.20" y2="197.31" stroke="#f4705f" stroke-width="0.7" opacity=".5"/>
<path d="M328.3 135.8h0M328.3 177.5h0M328.3 160.4h0M328.3 139.9h0M328.3 176.6h0M328.3 152.2h0M328.3 167.7h0M328.3 167.7h0M328.3 158.8h0M328.3 168.1h0M328.3 156.1h0M328.3 157.7h0M328.3 175.7h0M328.3 175.0h0M328.3 195.3h0M328.3 184.1h0M328.3 179.7h0M328.3 177.5h0M328.3 179.6h0M328.3 182.6h0M328.3 182.6h0M328.3 188.3h0M328.3 179.1h0M328.3 176.1h0M328.3 181.6h0M328.3 189.6h0M328.3 179.8h0M328.3 180.3h0M328.3 185.2h0M328.3 182.6h0M328.3 188.6h0M328.3 184.3h0M328.3 187.4h0M328.3 194.8h0M328.3 188.9h0M328.3 189.2h0M328.3 175.0h0M328.3 185.8h0M328.3 202.8h0M328.3 204.4h0M328.3 204.5h0M328.3 203.1h0M328.3 205.6h0M328.3 206.7h0M328.3 194.9h0M328.3 201.6h0M328.3 201.7h0M328.3 203.7h0M328.3 205.3h0M328.3 206.3h0M328.3 203.6h0M328.3 197.3h0M328.3 200.2h0M328.3 193.7h0M328.3 203.2h0M328.3 194.0h0M328.3 206.2h0M328.3 205.2h0M328.3 199.7h0M328.3 192.7h0M328.3 203.0h0M328.3 196.5h0M328.3 202.0h0M328.3 194.9h0M328.3 206.3h0M328.3 194.4h0M328.3 204.0h0M328.3 204.3h0M328.3 206.6h0M328.3 204.1h0M328.3 197.7h0M328.3 204.7h0M328.3 202.4h0M328.3 199.4h0M328.3 195.0h0M328.3 198.6h0M328.3 205.0h0M328.3 197.2h0M328.3 193.2h0M328.3 206.2h0M328.3 195.9h0M328.3 194.8h0M328.3 203.2h0M356.1 126.0h0M356.1 156.6h0M356.1 136.1h0M356.1 171.8h0M356.1 149.4h0M356.1 156.2h0M356.1 133.6h0M356.1 132.5h0M356.1 146.6h0M356.1 164.5h0M356.1 163.2h0M356.1 162.8h0M356.1 155.2h0M356.1 189.0h0M356.1 189.7h0M356.1 179.0h0M356.1 187.4h0M356.1 170.5h0M356.1 189.4h0M356.1 180.8h0M356.1 173.7h0M356.1 173.6h0M356.1 188.1h0M356.1 176.4h0M356.1 187.8h0M356.1 186.6h0M356.1 173.0h0M356.1 190.7h0M356.1 178.1h0M356.1 180.1h0M356.1 183.6h0M356.1 180.6h0M356.1 173.2h0M356.1 189.5h0M356.1 185.9h0M356.1 175.7h0M356.1 193.4h0M356.1 204.9h0M356.1 193.4h0M356.1 190.7h0M356.1 206.6h0M356.1 205.8h0M356.1 191.1h0M356.1 206.7h0M356.1 192.4h0M356.1 195.9h0M356.1 205.9h0M356.1 205.1h0M356.1 196.9h0M356.1 206.0h0M356.1 202.7h0M356.1 192.3h0M356.1 196.2h0M356.1 193.0h0M356.1 191.0h0M356.1 206.5h0M356.1 204.2h0M356.1 194.8h0M356.1 196.7h0M356.1 206.5h0M356.1 204.3h0M356.1 201.3h0M356.1 205.8h0M356.1 206.6h0M356.1 190.8h0M356.1 203.1h0M356.1 205.7h0M356.1 200.4h0M356.1 205.5h0M356.1 201.3h0M356.1 205.0h0M356.1 196.8h0M356.1 205.4h0M356.1 195.8h0M356.1 200.1h0M356.1 205.8h0M356.1 202.5h0M356.1 200.2h0M356.1 192.2h0M356.1 202.6h0M356.1 204.5h0M356.1 191.2h0M356.1 193.0h0M356.1 196.0h0M384.2 128.5h0M384.2 164.6h0M384.2 171.0h0M384.2 160.1h0M384.2 140.8h0M384.2 153.0h0M384.2 155.9h0M384.2 171.6h0M384.2 158.4h0M384.2 145.5h0M384.2 156.1h0M384.2 154.8h0M384.2 176.2h0M384.2 177.2h0M384.2 191.4h0M384.2 186.4h0M384.2 182.7h0M384.2 189.4h0M384.2 186.3h0M384.2 187.0h0M384.2 186.0h0M384.2 194.5h0M384.2 190.2h0M384.2 181.6h0M384.2 193.6h0M384.2 190.8h0M384.2 178.1h0M384.2 188.5h0M384.2 187.4h0M384.2 189.3h0M384.2 175.4h0M384.2 192.8h0M384.2 180.0h0M384.2 174.8h0M384.2 190.2h0M384.2 185.0h0M384.2 176.4h0M384.2 180.5h0M384.2 186.2h0M384.2 206.4h0M384.2 201.3h0M384.2 202.4h0M384.2 196.6h0M384.2 203.5h0M384.2 201.8h0M384.2 197.8h0M384.2 194.8h0M384.2 202.7h0M384.2 202.2h0M384.2 199.0h0M384.2 192.6h0M384.2 204.9h0M384.2 191.6h0M384.2 196.6h0M384.2 197.5h0M384.2 203.0h0M384.2 206.2h0M384.2 195.8h0M384.2 202.3h0M384.2 199.9h0M384.2 200.4h0M384.2 193.0h0M384.2 195.8h0M384.2 206.6h0M384.2 201.0h0M384.2 201.0h0M384.2 194.2h0M384.2 201.7h0M384.2 200.8h0M384.2 193.2h0M384.2 201.3h0M384.2 200.5h0M384.2 200.1h0M384.2 194.5h0M384.2 197.4h0M384.2 196.1h0M384.2 201.9h0M384.2 206.5h0M384.2 199.4h0M384.2 195.6h0M384.2 195.6h0M384.2 205.7h0M384.2 204.5h0M384.2 206.1h0M384.2 194.7h0M384.2 205.9h0M384.2 206.0h0M384.2 195.9h0" stroke="#f4705f" stroke-width="0.95" stroke-linecap="round" fill="none" opacity=".72"/>
<path d="M328.3 172.7h0M328.3 190.1h0M328.3 177.5h0M328.3 199.9h0M328.3 203.7h0M328.3 199.7h0M328.3 201.2h0M328.3 205.3h0M328.3 204.9h0M328.3 199.4h0M356.1 176.2h0M356.1 190.8h0M356.1 174.7h0M356.1 182.8h0M356.1 173.2h0M356.1 203.4h0M356.1 205.3h0M356.1 200.1h0M356.1 193.1h0M384.2 132.5h0M384.2 179.0h0M384.2 202.4h0M384.2 198.8h0M384.2 197.2h0" stroke="#5a55c8" stroke-width="0.95" stroke-linecap="round" fill="none" opacity=".72"/>
<polyline points="328.30,174.99 356.10,161.96 384.20,149.49" fill="none" stroke="#f4705f" stroke-width="0.45" stroke-opacity="0.9"/>
<polyline points="328.30,178.41 356.10,168.17 384.20,157.92" fill="none" stroke="#f4705f" stroke-width="0.45" stroke-opacity="0.9"/>
<polyline points="328.30,197.56 356.10,190.07 384.20,182.25" fill="none" stroke="#f4705f" stroke-width="0.45" stroke-opacity="0.9"/>
<polyline points="328.30,200.34 356.10,201.81 384.20,202.54" fill="none" stroke="#5a55c8" stroke-width="0.45" stroke-opacity="0.9"/>
<polyline points="328.30,200.59 356.10,203.03 384.20,204.25" fill="none" stroke="#5a55c8" stroke-width="0.45" stroke-opacity="0.9"/>
<polyline points="328.30,204.25 356.10,201.81 384.20,198.63" fill="none" stroke="#f4705f" stroke-width="0.45" stroke-opacity="0.9"/>
<polyline points="328.30,203.77 356.10,202.54 384.20,200.10" fill="none" stroke="#f4705f" stroke-width="0.45" stroke-opacity="0.9"/>
<polyline points="328.30,204.74 356.10,203.52 384.20,201.81" fill="none" stroke="#f4705f" stroke-width="0.45" stroke-opacity="0.9"/>
<polyline points="328.30,203.03 356.10,203.77 384.20,203.03" fill="none" stroke="#f4705f" stroke-width="0.45" stroke-opacity="0.9"/>
<polyline points="328.30,205.48 356.10,204.74 384.20,203.77" fill="none" stroke="#f4705f" stroke-width="0.45" stroke-opacity="0.9"/>
<polyline points="328.30,205.97 356.10,205.48 384.20,204.74" fill="none" stroke="#f4705f" stroke-width="0.45" stroke-opacity="0.9"/>
<polyline points="328.30,204.25 356.10,204.99 384.20,205.48" fill="none" stroke="#5a55c8" stroke-width="0.45" stroke-opacity="0.9"/>
<polyline points="328.30,205.72 356.10,205.97 384.20,206.21" fill="none" stroke="#5a55c8" stroke-width="0.45" stroke-opacity="0.9"/>
<polyline points="328.30,206.46 356.10,206.46 384.20,206.46" fill="none" stroke="#5a55c8" stroke-width="0.45" stroke-opacity="0.9"/>
<line x1="328.30" y1="206.80" x2="384.20" y2="206.80" stroke="#5a55c8" stroke-width="1.1" opacity=".75"/>
<rect x="311.60" y="110.50" width="89.40" height="10.90" fill="#a9bbd3" stroke="#333" stroke-width="0.75" rx="0.6"/>
<text x="357.30" y="119.60" font-size="9.2" text-anchor="middle" transform="rotate(0.05 357.30 119.60)" fill="#222" stroke="#222" stroke-width="0.07">OPC</text>
<text x="326.60" y="194.80" font-size="6.4" text-anchor="end" transform="rotate(0.05 326.60 194.80)" fill="#000" stroke="#000" stroke-width="0.08">CLEC11A</text>
<line x1="327.50" y1="194.70" x2="328.30" y2="200.34" stroke="#111" stroke-width="0.55"/>
<text x="321.60" y="202.60" font-size="6.4" text-anchor="end" transform="rotate(0.05 321.60 202.60)" fill="#000" stroke="#000" stroke-width="0.08">WNT7B</text>
<line x1="322.50" y1="200.59" x2="328.30" y2="200.59" stroke="#111" stroke-width="0.55"/>
<text x="322.50" y="209.80" font-size="6.4" text-anchor="end" transform="rotate(0.05 322.50 209.80)" fill="#000" stroke="#000" stroke-width="0.08">GPC3</text>
<line x1="323.40" y1="205.72" x2="328.30" y2="205.72" stroke="#111" stroke-width="0.55"/>
<text x="389.70" y="150.30" font-size="6.4" transform="rotate(0.05 389.70 150.30)" fill="#000" stroke="#000" stroke-width="0.08">BCAN</text>
<line x1="388.80" y1="149.49" x2="384.20" y2="149.49" stroke="#111" stroke-width="0.55"/>
<text x="389.70" y="159.10" font-size="6.4" transform="rotate(0.05 389.70 159.10)" fill="#000" stroke="#000" stroke-width="0.08">S100B</text>
<line x1="388.80" y1="157.92" x2="384.20" y2="157.92" stroke="#111" stroke-width="0.55"/>
<text x="389.70" y="183.70" font-size="6.4" transform="rotate(0.05 389.70 183.70)" fill="#000" stroke="#000" stroke-width="0.08">CSPG5</text>
<line x1="388.80" y1="182.25" x2="384.20" y2="182.25" stroke="#111" stroke-width="0.55"/>
<text x="326.80" y="220.00" font-size="8" text-anchor="middle" transform="rotate(0.05 326.80 220.00)" fill="#484848" stroke="#484848" stroke-width="0.07">Late-</text>
<text x="317.65" y="229.30" font-size="8" transform="rotate(0.05 317.65 229.30)" fill="#484848" stroke="#484848" stroke-width="0.07">first</text>
<text x="353.50" y="220.00" font-size="8" text-anchor="middle" transform="rotate(0.05 353.50 220.00)" fill="#484848" stroke="#484848" stroke-width="0.07">Early-</text>
<text x="353.50" y="229.30" font-size="8" text-anchor="middle" transform="rotate(0.05 353.50 229.30)" fill="#484848" stroke="#484848" stroke-width="0.07">second</text>
<text x="381.10" y="220.00" font-size="8" text-anchor="middle" transform="rotate(0.05 381.10 220.00)" fill="#484848" stroke="#484848" stroke-width="0.07">Late-</text>
<text x="381.10" y="229.30" font-size="8" text-anchor="middle" transform="rotate(0.05 381.10 229.30)" fill="#484848" stroke="#484848" stroke-width="0.07">second</text>
<line x1="427.90" y1="206.70" x2="532.30" y2="206.70" stroke="#eeeeee" stroke-width="0.55"/>
<text x="424.60" y="208.55" font-size="8" text-anchor="end" transform="rotate(0.05 424.60 208.55)" fill="#484848" stroke="#484848" stroke-width="0.07">0</text>
<line x1="427.90" y1="184.30" x2="532.30" y2="184.30" stroke="#eeeeee" stroke-width="0.55"/>
<text x="424.60" y="186.15" font-size="8" text-anchor="end" transform="rotate(0.05 424.60 186.15)" fill="#484848" stroke="#484848" stroke-width="0.07">1</text>
<line x1="427.90" y1="161.90" x2="532.30" y2="161.90" stroke="#eeeeee" stroke-width="0.55"/>
<text x="424.60" y="163.75" font-size="8" text-anchor="end" transform="rotate(0.05 424.60 163.75)" fill="#484848" stroke="#484848" stroke-width="0.07">2</text>
<line x1="427.90" y1="139.50" x2="532.30" y2="139.50" stroke="#eeeeee" stroke-width="0.55"/>
<text x="424.60" y="141.35" font-size="8" text-anchor="end" transform="rotate(0.05 424.60 141.35)" fill="#484848" stroke="#484848" stroke-width="0.07">3</text>
<line x1="459.60" y1="122.50" x2="459.60" y2="208.90" stroke="#eeeeee" stroke-width="0.55"/>
<line x1="487.50" y1="122.50" x2="487.50" y2="208.90" stroke="#eeeeee" stroke-width="0.55"/>
<line x1="515.50" y1="122.50" x2="515.50" y2="208.90" stroke="#eeeeee" stroke-width="0.55"/>
<line x1="459.60" y1="164.81" x2="459.60" y2="206.70" stroke="#5a55c8" stroke-width="0.8" stroke-dasharray=".7 1.5" opacity=".4"/>
<line x1="459.60" y1="183.85" x2="459.60" y2="206.70" stroke="#f4705f" stroke-width="0.8" stroke-dasharray=".7 1.9" stroke-dashoffset="1" opacity=".35"/>
<line x1="459.60" y1="206.70" x2="459.60" y2="197.56" stroke="#5a55c8" stroke-width="0.7" opacity=".5"/>
<line x1="487.50" y1="161.12" x2="487.50" y2="206.70" stroke="#5a55c8" stroke-width="0.8" stroke-dasharray=".7 1.5" opacity=".4"/>
<line x1="487.50" y1="181.84" x2="487.50" y2="206.70" stroke="#f4705f" stroke-width="0.8" stroke-dasharray=".7 1.9" stroke-dashoffset="1" opacity=".35"/>
<line x1="487.50" y1="206.70" x2="487.50" y2="196.75" stroke="#5a55c8" stroke-width="0.7" opacity=".5"/>
<line x1="515.50" y1="163.58" x2="515.50" y2="206.70" stroke="#f4705f" stroke-width="0.8" stroke-dasharray=".7 1.5" opacity=".4"/>
<line x1="515.50" y1="183.18" x2="515.50" y2="206.70" stroke="#5a55c8" stroke-width="0.8" stroke-dasharray=".7 1.9" stroke-dashoffset="1" opacity=".35"/>
<line x1="515.50" y1="206.70" x2="515.50" y2="197.29" stroke="#5a55c8" stroke-width="0.7" opacity=".5"/>
<path d="M459.6 130.5h0M459.6 163.9h0M459.6 166.5h0M459.6 169.8h0M459.6 135.2h0M459.6 194.5h0M459.6 186.6h0M459.6 180.6h0M459.6 190.2h0M459.6 193.1h0M459.6 178.6h0M459.6 179.8h0M459.6 174.2h0M459.6 172.5h0M459.6 188.6h0M459.6 174.0h0M459.6 181.6h0M459.6 193.3h0M459.6 192.1h0M459.6 203.9h0M459.6 193.6h0M459.6 192.9h0M459.6 206.5h0M459.6 198.9h0M459.6 192.1h0M459.6 202.9h0M459.6 192.6h0M459.6 206.2h0M459.6 195.5h0M459.6 201.1h0M459.6 206.5h0M459.6 205.6h0M459.6 203.1h0M459.6 205.4h0M459.6 200.6h0M459.6 201.0h0M459.6 199.9h0M459.6 200.4h0M459.6 204.8h0M487.5 123.8h0M487.5 141.2h0M487.5 137.4h0M487.5 142.4h0M487.5 155.0h0M487.5 143.8h0M487.5 185.8h0M487.5 182.1h0M487.5 183.9h0M487.5 179.2h0M487.5 185.5h0M487.5 173.3h0M487.5 192.1h0M487.5 176.8h0M487.5 183.3h0M487.5 177.8h0M487.5 174.2h0M487.5 191.3h0M487.5 173.8h0M487.5 189.7h0M487.5 191.0h0M487.5 202.3h0M487.5 204.3h0M487.5 192.5h0M487.5 198.0h0M487.5 192.4h0M487.5 201.8h0M487.5 191.1h0M487.5 199.8h0M487.5 204.8h0M487.5 206.7h0M487.5 205.0h0M487.5 200.8h0M487.5 205.9h0M487.5 199.0h0M487.5 202.0h0M487.5 192.4h0M487.5 206.1h0M487.5 191.0h0M487.5 197.0h0M487.5 197.6h0M487.5 202.1h0M487.5 200.0h0M487.5 190.6h0M487.5 206.3h0M487.5 192.4h0M487.5 206.5h0M487.5 202.9h0M515.5 140.6h0M515.5 160.3h0M515.5 167.3h0M515.5 137.8h0M515.5 152.4h0M515.5 152.9h0M515.5 136.5h0M515.5 169.6h0M515.5 160.7h0M515.5 157.5h0M515.5 183.1h0M515.5 175.2h0M515.5 191.4h0M515.5 179.1h0M515.5 173.8h0M515.5 177.5h0M515.5 175.6h0M515.5 191.9h0M515.5 178.4h0M515.5 178.4h0M515.5 180.5h0M515.5 180.7h0M515.5 175.6h0M515.5 188.5h0M515.5 189.9h0M515.5 206.0h0M515.5 202.5h0M515.5 206.2h0M515.5 194.2h0M515.5 206.7h0M515.5 198.1h0M515.5 205.5h0M515.5 203.8h0M515.5 206.5h0M515.5 205.8h0M515.5 202.8h0M515.5 203.0h0M515.5 199.2h0M515.5 195.1h0M515.5 204.7h0M515.5 199.7h0M515.5 206.5h0M515.5 206.5h0M515.5 200.3h0M515.5 201.6h0M515.5 196.4h0M515.5 201.9h0M515.5 200.1h0M515.5 204.4h0M515.5 193.7h0M515.5 194.9h0M515.5 191.8h0M515.5 203.0h0M515.5 205.6h0M515.5 201.1h0" stroke="#f4705f" stroke-width="0.95" stroke-linecap="round" fill="none" opacity=".72"/>
<path d="M459.6 151.9h0M459.6 162.9h0M459.6 152.8h0M459.6 138.0h0M459.6 162.6h0M459.6 141.0h0M459.6 169.9h0M459.6 142.8h0M459.6 186.3h0M459.6 182.8h0M459.6 184.7h0M459.6 185.5h0M459.6 192.7h0M459.6 176.3h0M459.6 192.5h0M459.6 173.8h0M459.6 183.3h0M459.6 187.3h0M459.6 178.1h0M459.6 183.9h0M459.6 193.2h0M459.6 184.2h0M459.6 175.5h0M459.6 182.9h0M459.6 194.5h0M459.6 204.5h0M459.6 197.9h0M459.6 206.4h0M459.6 203.1h0M459.6 201.3h0M459.6 204.2h0M459.6 196.4h0M459.6 205.1h0M459.6 195.5h0M459.6 203.5h0M459.6 199.5h0M459.6 206.0h0M459.6 199.7h0M459.6 198.9h0M459.6 200.3h0M459.6 206.0h0M459.6 198.1h0M459.6 199.2h0M459.6 202.8h0M459.6 202.4h0M459.6 197.8h0M459.6 205.2h0M459.6 205.2h0M459.6 192.6h0M459.6 194.5h0M459.6 193.9h0M459.6 200.8h0M459.6 206.0h0M459.6 193.8h0M459.6 205.8h0M459.6 199.9h0M459.6 205.8h0M459.6 205.2h0M459.6 202.6h0M459.6 202.0h0M487.5 132.2h0M487.5 142.3h0M487.5 155.7h0M487.5 137.8h0M487.5 130.6h0M487.5 135.9h0M487.5 169.6h0M487.5 173.5h0M487.5 179.5h0M487.5 173.5h0M487.5 174.6h0M487.5 194.2h0M487.5 193.9h0M487.5 191.5h0M487.5 174.1h0M487.5 182.9h0M487.5 185.9h0M487.5 189.0h0M487.5 178.9h0M487.5 187.0h0M487.5 187.5h0M487.5 177.3h0M487.5 193.2h0M487.5 203.7h0M487.5 200.0h0M487.5 190.4h0M487.5 193.7h0M487.5 205.1h0M487.5 199.5h0M487.5 191.3h0M487.5 194.1h0M487.5 204.0h0M487.5 202.4h0M487.5 193.0h0M487.5 199.7h0M487.5 191.6h0M487.5 196.9h0M487.5 197.7h0M487.5 200.9h0M487.5 202.3h0M487.5 199.6h0M487.5 196.7h0M487.5 192.1h0M487.5 202.2h0M487.5 193.6h0M487.5 196.6h0M487.5 198.9h0M487.5 200.9h0M487.5 195.3h0M487.5 195.7h0M487.5 195.3h0M515.5 128.3h0M515.5 146.5h0M515.5 172.5h0M515.5 174.9h0M515.5 179.2h0M515.5 181.3h0M515.5 185.4h0M515.5 181.4h0M515.5 188.5h0M515.5 175.1h0M515.5 176.4h0M515.5 177.2h0M515.5 183.2h0M515.5 173.8h0M515.5 179.7h0M515.5 174.3h0M515.5 188.5h0M515.5 193.4h0M515.5 204.5h0M515.5 197.3h0M515.5 191.5h0M515.5 194.9h0M515.5 196.8h0M515.5 203.1h0M515.5 206.3h0M515.5 201.2h0M515.5 199.4h0M515.5 194.8h0M515.5 194.4h0M515.5 204.5h0M515.5 198.1h0M515.5 204.5h0M515.5 194.2h0M515.5 194.8h0M515.5 195.4h0M515.5 206.3h0M515.5 198.1h0M515.5 198.9h0M515.5 198.8h0M515.5 191.1h0M515.5 191.3h0M515.5 206.2h0M515.5 200.7h0M515.5 197.2h0" stroke="#5a55c8" stroke-width="0.95" stroke-linecap="round" fill="none" opacity=".72"/>
<polyline points="459.60,160.56 487.50,163.69 515.50,167.95" fill="none" stroke="#5a55c8" stroke-width="0.45" stroke-opacity="0.9"/>
<polyline points="459.60,164.36 487.50,162.57 515.50,160.33" fill="none" stroke="#f4705f" stroke-width="0.45" stroke-opacity="0.9"/>
<polyline points="459.60,198.19 487.50,199.08 515.50,199.76" fill="none" stroke="#5a55c8" stroke-width="0.45" stroke-opacity="0.9"/>
<polyline points="459.60,202.22 487.50,204.01 515.50,205.36" fill="none" stroke="#5a55c8" stroke-width="0.45" stroke-opacity="0.9"/>
<polyline points="459.60,203.34 487.50,204.46 515.50,205.58" fill="none" stroke="#5a55c8" stroke-width="0.45" stroke-opacity="0.9"/>
<polyline points="459.60,205.58 487.50,204.91 515.50,203.34" fill="none" stroke="#f4705f" stroke-width="0.45" stroke-opacity="0.9"/>
<polyline points="459.60,205.80 487.50,205.58 515.50,204.46" fill="none" stroke="#f4705f" stroke-width="0.45" stroke-opacity="0.9"/>
<polyline points="459.60,206.03 487.50,206.03 515.50,205.80" fill="none" stroke="#f4705f" stroke-width="0.45" stroke-opacity="0.9"/>
<polyline points="459.60,206.25 487.50,206.25 515.50,206.25" fill="none" stroke="#f4705f" stroke-width="0.45" stroke-opacity="0.9"/>
<polyline points="459.60,206.48 487.50,206.36 515.50,206.25" fill="none" stroke="#f4705f" stroke-width="0.45" stroke-opacity="0.9"/>
<polyline points="459.60,205.92 487.50,206.03 515.50,206.03" fill="none" stroke="#f4705f" stroke-width="0.45" stroke-opacity="0.9"/>
<polyline points="459.60,204.91 487.50,205.36 515.50,205.80" fill="none" stroke="#5a55c8" stroke-width="0.45" stroke-opacity="0.9"/>
<polyline points="459.60,206.48 487.50,206.48 515.50,206.48" fill="none" stroke="#5a55c8" stroke-width="0.45" stroke-opacity="0.9"/>
<line x1="459.60" y1="205.40" x2="515.50" y2="205.40" stroke="#5a55c8" stroke-width="0.9" opacity=".7"/>
<line x1="459.60" y1="206.50" x2="515.50" y2="206.50" stroke="#f4705f" stroke-width="1.3" opacity=".95"/>
<rect x="442.80" y="110.50" width="89.50" height="10.90" fill="#f8e4b0" stroke="#333" stroke-width="0.75" rx="0.6"/>
<text x="489.25" y="119.60" font-size="9.2" text-anchor="middle" transform="rotate(0.05 489.25 119.60)" fill="#222" stroke="#222" stroke-width="0.07">Microglia</text>
<text x="454.20" y="162.70" font-size="6.4" text-anchor="end" transform="rotate(0.05 454.20 162.70)" fill="#000" stroke="#000" stroke-width="0.08">CTSB</text>
<line x1="455.10" y1="160.56" x2="459.60" y2="160.56" stroke="#111" stroke-width="0.55"/>
<text x="453.60" y="199.80" font-size="6.4" text-anchor="end" transform="rotate(0.05 453.60 199.80)" fill="#000" stroke="#000" stroke-width="0.08">NCAN</text>
<line x1="454.50" y1="198.19" x2="459.60" y2="198.19" stroke="#111" stroke-width="0.55"/>
<text x="458.80" y="209.00" font-size="6.4" text-anchor="end" transform="rotate(0.05 458.80 209.00)" fill="#000" stroke="#000" stroke-width="0.08">SERPINH1</text>
<line x1="459.70" y1="206.03" x2="459.60" y2="206.03" stroke="#111" stroke-width="0.55"/>
<text x="521.10" y="162.60" font-size="6.4" transform="rotate(0.05 521.10 162.60)" fill="#000" stroke="#000" stroke-width="0.08">C1QB</text>
<line x1="520.20" y1="160.33" x2="515.50" y2="160.33" stroke="#111" stroke-width="0.55"/>
<text x="521.10" y="202.80" font-size="6.4" transform="rotate(0.05 521.10 202.80)" fill="#000" stroke="#000" stroke-width="0.08">NTN4</text>
<line x1="520.20" y1="202.70" x2="515.50" y2="203.34" stroke="#111" stroke-width="0.55"/>
<text x="521.10" y="208.80" font-size="6.4" transform="rotate(0.05 521.10 208.80)" fill="#000" stroke="#000" stroke-width="0.08">PRSS12</text>
<line x1="520.20" y1="205.36" x2="515.50" y2="205.36" stroke="#111" stroke-width="0.55"/>
<text x="459.20" y="220.00" font-size="8" text-anchor="middle" transform="rotate(0.05 459.20 220.00)" fill="#484848" stroke="#484848" stroke-width="0.07">Late-</text>
<text x="450.05" y="229.30" font-size="8" transform="rotate(0.05 450.05 229.30)" fill="#484848" stroke="#484848" stroke-width="0.07">first</text>
<text x="484.90" y="220.00" font-size="8" text-anchor="middle" transform="rotate(0.05 484.90 220.00)" fill="#484848" stroke="#484848" stroke-width="0.07">Early-</text>
<text x="484.90" y="229.30" font-size="8" text-anchor="middle" transform="rotate(0.05 484.90 229.30)" fill="#484848" stroke="#484848" stroke-width="0.07">second</text>
<text x="512.40" y="220.00" font-size="8" text-anchor="middle" transform="rotate(0.05 512.40 220.00)" fill="#484848" stroke="#484848" stroke-width="0.07">Late-</text>
<text x="512.40" y="229.30" font-size="8" text-anchor="middle" transform="rotate(0.05 512.40 229.30)" fill="#484848" stroke="#484848" stroke-width="0.07">second</text>
<line x1="569.20" y1="206.70" x2="671.90" y2="206.70" stroke="#eeeeee" stroke-width="0.55"/>
<text x="564.70" y="208.55" font-size="8" text-anchor="end" transform="rotate(0.05 564.70 208.55)" fill="#484848" stroke="#484848" stroke-width="0.07">0</text>
<line x1="569.20" y1="178.85" x2="671.90" y2="178.85" stroke="#eeeeee" stroke-width="0.55"/>
<text x="564.70" y="180.70" font-size="8" text-anchor="end" transform="rotate(0.05 564.70 180.70)" fill="#484848" stroke="#484848" stroke-width="0.07">1</text>
<line x1="569.20" y1="151.00" x2="671.90" y2="151.00" stroke="#eeeeee" stroke-width="0.55"/>
<text x="564.70" y="152.85" font-size="8" text-anchor="end" transform="rotate(0.05 564.70 152.85)" fill="#484848" stroke="#484848" stroke-width="0.07">2</text>
<line x1="569.20" y1="123.15" x2="671.90" y2="123.15" stroke="#eeeeee" stroke-width="0.55"/>
<text x="564.70" y="125.00" font-size="8" text-anchor="end" transform="rotate(0.05 564.70 125.00)" fill="#484848" stroke="#484848" stroke-width="0.07">3</text>
<line x1="599.60" y1="122.50" x2="599.60" y2="208.90" stroke="#eeeeee" stroke-width="0.55"/>
<line x1="627.60" y1="122.50" x2="627.60" y2="208.90" stroke="#eeeeee" stroke-width="0.55"/>
<line x1="655.60" y1="122.50" x2="655.60" y2="208.90" stroke="#eeeeee" stroke-width="0.55"/>
<line x1="599.60" y1="171.47" x2="599.60" y2="206.70" stroke="#f4705f" stroke-width="0.8" stroke-dasharray=".7 1.5" opacity=".4"/>
<line x1="599.60" y1="187.48" x2="599.60" y2="206.70" stroke="#5a55c8" stroke-width="0.8" stroke-dasharray=".7 1.9" stroke-dashoffset="1" opacity=".35"/>
<line x1="599.60" y1="206.70" x2="599.60" y2="199.01" stroke="#f4705f" stroke-width="0.7" opacity=".5"/>
<line x1="627.60" y1="175.30" x2="627.60" y2="206.70" stroke="#f4705f" stroke-width="0.8" stroke-dasharray=".7 1.5" opacity=".4"/>
<line x1="627.60" y1="189.57" x2="627.60" y2="206.70" stroke="#5a55c8" stroke-width="0.8" stroke-dasharray=".7 1.9" stroke-dashoffset="1" opacity=".35"/>
<line x1="627.60" y1="206.70" x2="627.60" y2="199.85" stroke="#f4705f" stroke-width="0.7" opacity=".5"/>
<line x1="655.60" y1="160.75" x2="655.60" y2="206.70" stroke="#f4705f" stroke-width="0.8" stroke-dasharray=".7 1.5" opacity=".4"/>
<line x1="655.60" y1="181.63" x2="655.60" y2="206.70" stroke="#5a55c8" stroke-width="0.8" stroke-dasharray=".7 1.9" stroke-dashoffset="1" opacity=".35"/>
<line x1="655.60" y1="206.70" x2="655.60" y2="196.67" stroke="#f4705f" stroke-width="0.7" opacity=".5"/>
<path d="M599.6 142.6h0M599.6 179.2h0M599.6 164.5h0M599.6 167.0h0M599.6 157.4h0M599.6 155.9h0M599.6 172.6h0M599.6 158.2h0M599.6 156.7h0M599.6 164.5h0M599.6 176.1h0M599.6 185.6h0M599.6 195.9h0M599.6 178.1h0M599.6 192.7h0M599.6 189.6h0M599.6 181.9h0M599.6 181.3h0M599.6 184.9h0M599.6 196.4h0M599.6 178.3h0M599.6 181.7h0M599.6 196.4h0M599.6 196.2h0M599.6 192.5h0M599.6 179.2h0M599.6 192.9h0M599.6 184.2h0M599.6 184.8h0M599.6 192.0h0M599.6 194.1h0M599.6 182.5h0M599.6 206.0h0M599.6 194.3h0M599.6 198.5h0M599.6 205.3h0M599.6 197.0h0M599.6 206.0h0M599.6 197.3h0M599.6 195.7h0M599.6 206.7h0M599.6 196.3h0M599.6 200.7h0M599.6 196.8h0M599.6 201.5h0M599.6 199.8h0M599.6 200.2h0M599.6 197.1h0M599.6 206.4h0M599.6 200.9h0M599.6 204.1h0M599.6 202.8h0M599.6 198.0h0M599.6 196.7h0M599.6 202.1h0M599.6 205.9h0M599.6 199.4h0M599.6 202.4h0M599.6 206.0h0M599.6 194.3h0M599.6 203.4h0M599.6 206.1h0M599.6 198.2h0M599.6 196.3h0M599.6 196.4h0M599.6 206.0h0M599.6 203.2h0M599.6 204.0h0M599.6 197.7h0M599.6 205.6h0M599.6 200.0h0M599.6 194.2h0M627.6 149.6h0M627.6 153.6h0M627.6 163.7h0M627.6 165.3h0M627.6 163.3h0M627.6 165.1h0M627.6 162.0h0M627.6 174.3h0M627.6 181.9h0M627.6 183.4h0M627.6 172.5h0M627.6 195.7h0M627.6 196.2h0M627.6 189.7h0M627.6 185.0h0M627.6 196.4h0M627.6 192.9h0M627.6 191.1h0M627.6 190.5h0M627.6 185.7h0M627.6 196.5h0M627.6 192.3h0M627.6 183.9h0M627.6 197.6h0M627.6 183.9h0M627.6 194.3h0M627.6 183.5h0M627.6 184.4h0M627.6 186.6h0M627.6 193.4h0M627.6 194.9h0M627.6 196.7h0M627.6 205.7h0M627.6 200.1h0M627.6 201.0h0M627.6 200.0h0M627.6 205.5h0M627.6 205.8h0M627.6 206.1h0M627.6 195.5h0M627.6 203.4h0M627.6 200.1h0M627.6 201.2h0M627.6 205.1h0M627.6 206.4h0M627.6 197.4h0M627.6 195.8h0M627.6 199.2h0M627.6 205.8h0M627.6 198.3h0M627.6 203.6h0M627.6 201.8h0M627.6 206.0h0M627.6 204.8h0M627.6 198.2h0M627.6 204.5h0M627.6 203.4h0M627.6 198.6h0M627.6 205.3h0M627.6 205.1h0M627.6 203.4h0M627.6 200.3h0M627.6 202.4h0M627.6 197.2h0M627.6 200.0h0M627.6 205.0h0M627.6 206.6h0M627.6 202.8h0M627.6 206.0h0M627.6 199.4h0M627.6 206.2h0M655.6 123.1h0M655.6 154.6h0M655.6 157.5h0M655.6 142.6h0M655.6 172.2h0M655.6 156.1h0M655.6 165.8h0M655.6 135.2h0M655.6 173.3h0M655.6 145.4h0M655.6 187.7h0M655.6 182.8h0M655.6 180.1h0M655.6 176.3h0M655.6 190.7h0M655.6 188.1h0M655.6 170.1h0M655.6 190.4h0M655.6 190.7h0M655.6 181.1h0M655.6 179.6h0M655.6 171.9h0M655.6 192.7h0M655.6 188.3h0M655.6 190.0h0M655.6 179.5h0M655.6 183.9h0M655.6 171.9h0M655.6 177.6h0M655.6 172.6h0M655.6 170.2h0M655.6 170.6h0M655.6 183.9h0M655.6 192.9h0M655.6 191.8h0M655.6 205.8h0M655.6 206.6h0M655.6 203.4h0M655.6 203.4h0M655.6 190.7h0M655.6 192.7h0M655.6 201.3h0M655.6 199.4h0M655.6 193.2h0M655.6 194.1h0M655.6 197.1h0M655.6 199.7h0M655.6 205.7h0M655.6 204.0h0M655.6 197.0h0M655.6 198.4h0M655.6 194.2h0M655.6 192.2h0M655.6 204.7h0M655.6 206.1h0M655.6 204.9h0M655.6 196.3h0M655.6 203.9h0M655.6 204.1h0M655.6 202.2h0M655.6 199.5h0M655.6 196.6h0M655.6 206.1h0M655.6 195.4h0M655.6 197.6h0M655.6 200.4h0M655.6 196.7h0M655.6 194.2h0M655.6 206.7h0M655.6 200.3h0M655.6 196.6h0M655.6 196.0h0M655.6 197.2h0M655.6 204.9h0M655.6 194.5h0M655.6 204.2h0M655.6 201.1h0M655.6 190.9h0M655.6 204.5h0" stroke="#f4705f" stroke-width="0.95" stroke-linecap="round" fill="none" opacity=".72"/>
<path d="M599.6 149.1h0M599.6 192.5h0M599.6 182.8h0M599.6 195.3h0M599.6 179.2h0M599.6 179.4h0M599.6 196.7h0M599.6 205.5h0M599.6 201.3h0M599.6 195.3h0M599.6 206.2h0M599.6 206.7h0M599.6 206.6h0M599.6 196.9h0M599.6 205.0h0M599.6 200.9h0M627.6 181.8h0M627.6 181.5h0M627.6 186.4h0M627.6 193.5h0M627.6 195.1h0M627.6 186.3h0M627.6 182.2h0M627.6 198.0h0M627.6 206.7h0M627.6 205.9h0M627.6 203.6h0M627.6 204.8h0M627.6 205.1h0M627.6 203.6h0M627.6 206.5h0M627.6 197.6h0M627.6 202.5h0M655.6 129.1h0M655.6 158.5h0M655.6 191.1h0M655.6 182.8h0M655.6 187.4h0M655.6 190.8h0M655.6 192.2h0M655.6 198.6h0M655.6 190.9h0" stroke="#5a55c8" stroke-width="0.95" stroke-linecap="round" fill="none" opacity=".72"/>
<polyline points="599.60,203.36 627.60,182.19 655.60,164.65" fill="none" stroke="#f4705f" stroke-width="0.45" stroke-opacity="0.9"/>
<polyline points="599.60,191.10 627.60,181.50 655.60,171.33" fill="none" stroke="#f4705f" stroke-width="0.45" stroke-opacity="0.9"/>
<polyline points="599.60,202.61 627.60,190.35 655.60,176.43" fill="none" stroke="#f4705f" stroke-width="0.45" stroke-opacity="0.9"/>
<polyline points="599.60,205.31 627.60,191.66 655.60,179.69" fill="none" stroke="#f4705f" stroke-width="0.45" stroke-opacity="0.9"/>
<polyline points="599.60,194.45 627.60,189.71 655.60,186.37" fill="none" stroke="#f4705f" stroke-width="0.45" stroke-opacity="0.9"/>
<polyline points="599.60,203.91 627.60,195.84 655.60,186.37" fill="none" stroke="#f4705f" stroke-width="0.45" stroke-opacity="0.9"/>
<polyline points="599.60,197.23 627.60,194.45 655.60,191.10" fill="none" stroke="#f4705f" stroke-width="0.45" stroke-opacity="0.9"/>
<polyline points="599.60,205.86 627.60,198.34 655.60,190.35" fill="none" stroke="#f4705f" stroke-width="0.45" stroke-opacity="0.9"/>
<polyline points="599.60,200.02 627.60,195.28 655.60,191.66" fill="none" stroke="#f4705f" stroke-width="0.45" stroke-opacity="0.9"/>
<polyline points="599.60,204.75 627.60,202.52 655.60,201.13" fill="none" stroke="#f4705f" stroke-width="0.45" stroke-opacity="0.9"/>
<polyline points="599.60,206.42 627.60,203.91 655.60,202.52" fill="none" stroke="#f4705f" stroke-width="0.45" stroke-opacity="0.9"/>
<polyline points="599.60,190.60 627.60,199.18 655.60,206.42" fill="none" stroke="#5a55c8" stroke-width="0.45" stroke-opacity="0.9"/>
<polyline points="599.60,201.13 627.60,204.19 655.60,206.70" fill="none" stroke="#5a55c8" stroke-width="0.45" stroke-opacity="0.9"/>
<polyline points="599.60,205.86 627.60,206.14 655.60,206.70" fill="none" stroke="#5a55c8" stroke-width="0.45" stroke-opacity="0.9"/>
<polyline points="599.60,206.42 627.60,206.42 655.60,206.42" fill="none" stroke="#5a55c8" stroke-width="0.45" stroke-opacity="0.9"/>
<line x1="599.60" y1="206.80" x2="655.60" y2="206.80" stroke="#5a55c8" stroke-width="1.1" opacity=".75"/>
<rect x="582.90" y="110.50" width="89.00" height="10.90" fill="#b2b5ba" stroke="#333" stroke-width="0.75" rx="0.6"/>
<text x="629.70" y="119.60" font-size="9.2" text-anchor="middle" transform="rotate(0.05 629.70 119.60)" fill="#222" stroke="#222" stroke-width="0.07">Endothelial</text>
<text x="595.10" y="192.20" font-size="6.4" text-anchor="end" transform="rotate(0.05 595.10 192.20)" fill="#000" stroke="#000" stroke-width="0.08">IGFBPL1</text>
<line x1="596.00" y1="190.60" x2="599.60" y2="190.60" stroke="#111" stroke-width="0.55"/>
<text x="593.90" y="200.90" font-size="6.4" text-anchor="end" transform="rotate(0.05 593.90 200.90)" fill="#000" stroke="#000" stroke-width="0.08">COL4A6</text>
<line x1="594.80" y1="200.80" x2="599.60" y2="201.13" stroke="#111" stroke-width="0.55"/>
<text x="597.70" y="209.50" font-size="6.4" text-anchor="end" transform="rotate(0.05 597.70 209.50)" fill="#000" stroke="#000" stroke-width="0.08">ADAMTS2</text>
<line x1="598.60" y1="205.86" x2="599.60" y2="205.86" stroke="#111" stroke-width="0.55"/>
<text x="660.80" y="165.60" font-size="6.4" transform="rotate(0.05 660.80 165.60)" fill="#000" stroke="#000" stroke-width="0.08">NID1</text>
<line x1="659.90" y1="164.65" x2="655.60" y2="164.65" stroke="#111" stroke-width="0.55"/>
<text x="660.80" y="172.60" font-size="6.4" transform="rotate(0.05 660.80 172.60)" fill="#000" stroke="#000" stroke-width="0.08">ANXA1</text>
<line x1="659.90" y1="171.33" x2="655.60" y2="171.33" stroke="#111" stroke-width="0.55"/>
<text x="660.80" y="179.60" font-size="6.4" transform="rotate(0.05 660.80 179.60)" fill="#000" stroke="#000" stroke-width="0.08">SPON2</text>
<line x1="659.90" y1="176.43" x2="655.60" y2="176.43" stroke="#111" stroke-width="0.55"/>
<text x="600.40" y="220.00" font-size="8" text-anchor="middle" transform="rotate(0.05 600.40 220.00)" fill="#484848" stroke="#484848" stroke-width="0.07">Late-</text>
<text x="591.25" y="229.30" font-size="8" transform="rotate(0.05 591.25 229.30)" fill="#484848" stroke="#484848" stroke-width="0.07">first</text>
<text x="624.90" y="220.00" font-size="8" text-anchor="middle" transform="rotate(0.05 624.90 220.00)" fill="#484848" stroke="#484848" stroke-width="0.07">Early-</text>
<text x="624.90" y="229.30" font-size="8" text-anchor="middle" transform="rotate(0.05 624.90 229.30)" fill="#484848" stroke="#484848" stroke-width="0.07">second</text>
<text x="652.40" y="220.00" font-size="8" text-anchor="middle" transform="rotate(0.05 652.40 220.00)" fill="#484848" stroke="#484848" stroke-width="0.07">Late-</text>
<text x="652.40" y="229.30" font-size="8" text-anchor="middle" transform="rotate(0.05 652.40 229.30)" fill="#484848" stroke="#484848" stroke-width="0.07">second</text>
<text x="16.60" y="114.50" font-size="9.2" text-anchor="middle" transform="rotate(-90 16.60 114.50)" fill="#000" stroke="#000" stroke-width="0.07">Expression Level</text>
<text x="287.00" y="246.10" font-size="8" transform="rotate(0.05 287.00 246.10)" fill="#000" stroke="#000" stroke-width="0.16">Trend</text>
<line x1="317.70" y1="243.40" x2="330.20" y2="243.40" stroke="#5a55c8" stroke-width="0.6"/>
<circle cx="324" cy="243.4" r="0.9" fill="#5a55c8"/>
<text x="336.60" y="246.10" font-size="8" transform="rotate(0.05 336.60 246.10)" fill="#000" stroke="#000" stroke-width="0.16">Decreasing</text>
<line x1="383.00" y1="243.40" x2="395.60" y2="243.40" stroke="#f4705f" stroke-width="0.6"/>
<circle cx="389.3" cy="243.4" r="0.9" fill="#f4705f"/>
<text x="401.40" y="246.10" font-size="8" transform="rotate(0.05 401.40 246.10)" fill="#000" stroke="#000" stroke-width="0.16">Increasing</text>
<text x="-0.50" y="8.00" font-size="14.5" font-weight="bold" transform="rotate(0.05 -0.50 8.00)" fill="#000" stroke="#000" stroke-width="0.16">a</text>
<text x="-0.50" y="291.00" font-size="14.5" font-weight="bold" transform="rotate(0.05 -0.50 291.00)" fill="#000" stroke="#000" stroke-width="0.16">b</text>
<text x="243.00" y="290.80" font-size="14.5" font-weight="bold" transform="rotate(0.05 243.00 290.80)" fill="#000" stroke="#000" stroke-width="0.16">c</text>
<line x1="32.50" y1="347.50" x2="217.30" y2="347.50" stroke="#c0c0c0" stroke-width="1.0" stroke-dasharray="1 2.72"/>
<line x1="32.50" y1="413.50" x2="217.30" y2="413.50" stroke="#c0c0c0" stroke-width="1.0" stroke-dasharray="1 2.72"/>
<line x1="32.50" y1="461.50" x2="217.30" y2="461.50" stroke="#c0c0c0" stroke-width="1.0" stroke-dasharray="1 2.72"/>
<line x1="32.50" y1="546.50" x2="217.30" y2="546.50" stroke="#c0c0c0" stroke-width="1.0" stroke-dasharray="1 2.72"/>
<rect x="31.85" y="573.69" width="16.85" height="39.91" fill="#f0766f"/>
<rect x="31.85" y="392.74" width="16.85" height="180.95" fill="#2fb24c"/>
<rect x="31.85" y="371.45" width="16.85" height="21.29" fill="#6d8fc9"/>
<text x="40.28" y="595.94" font-size="8" text-anchor="middle" transform="rotate(0.05 40.28 595.94)" fill="#000" stroke="#000" stroke-width="0.16">30</text>
<text x="40.28" y="485.51" font-size="8" text-anchor="middle" transform="rotate(0.05 40.28 485.51)" fill="#000" stroke="#000" stroke-width="0.16">136</text>
<text x="40.28" y="384.39" font-size="8" text-anchor="middle" transform="rotate(0.05 40.28 384.39)" fill="#000" stroke="#000" stroke-width="0.16">16</text>
<text x="44.98" y="623.30" font-size="8" text-anchor="end" transform="rotate(-45 44.98 623.30)" fill="#111" stroke="#111" stroke-width="0.07">NSC</text>
<rect x="50.30" y="608.28" width="16.85" height="5.32" fill="#f0766f"/>
<rect x="50.30" y="398.06" width="16.85" height="210.22" fill="#2fb24c"/>
<rect x="50.30" y="391.41" width="16.85" height="6.65" fill="#6d8fc9"/>
<text x="58.72" y="611.10" font-size="8" text-anchor="middle" transform="rotate(0.05 58.72 611.10)" fill="#000" stroke="#000" stroke-width="0.16">4</text>
<text x="58.72" y="505.47" font-size="8" text-anchor="middle" transform="rotate(0.05 58.72 505.47)" fill="#000" stroke="#000" stroke-width="0.16">158</text>
<text x="58.72" y="397.03" font-size="8" text-anchor="middle" transform="rotate(0.05 58.72 397.03)" fill="#000" stroke="#000" stroke-width="0.16">5</text>
<text x="63.42" y="623.20" font-size="8" text-anchor="end" transform="rotate(-45 63.42 623.20)" fill="#111" stroke="#111" stroke-width="0.07">IPC</text>
<rect x="68.75" y="605.62" width="16.85" height="7.98" fill="#f0766f"/>
<rect x="68.75" y="447.29" width="16.85" height="158.33" fill="#2fb24c"/>
<rect x="68.75" y="436.64" width="16.85" height="10.64" fill="#6d8fc9"/>
<text x="77.17" y="609.50" font-size="8" text-anchor="middle" transform="rotate(0.05 77.17 609.50)" fill="#000" stroke="#000" stroke-width="0.16">6</text>
<text x="77.17" y="528.75" font-size="8" text-anchor="middle" transform="rotate(0.05 77.17 528.75)" fill="#000" stroke="#000" stroke-width="0.16">119</text>
<text x="77.17" y="444.27" font-size="8" text-anchor="middle" transform="rotate(0.05 77.17 444.27)" fill="#000" stroke="#000" stroke-width="0.16">8</text>
<text x="84.27" y="621.60" font-size="8" text-anchor="end" transform="rotate(-45 84.27 621.60)" fill="#111" stroke="#111" stroke-width="0.07">Imm.GExN</text>
<rect x="87.20" y="594.97" width="16.85" height="18.63" fill="#f0766f"/>
<rect x="87.20" y="351.49" width="16.85" height="243.48" fill="#2fb24c"/>
<rect x="87.20" y="335.53" width="16.85" height="15.97" fill="#6d8fc9"/>
<text x="95.62" y="606.59" font-size="8" text-anchor="middle" transform="rotate(0.05 95.62 606.59)" fill="#000" stroke="#000" stroke-width="0.16">14</text>
<text x="95.62" y="475.53" font-size="8" text-anchor="middle" transform="rotate(0.05 95.62 475.53)" fill="#000" stroke="#000" stroke-width="0.16">183</text>
<text x="95.62" y="345.81" font-size="8" text-anchor="middle" transform="rotate(0.05 95.62 345.81)" fill="#000" stroke="#000" stroke-width="0.16">12</text>
<text x="100.82" y="622.40" font-size="8" text-anchor="end" transform="rotate(-45 100.82 622.40)" fill="#111" stroke="#111" stroke-width="0.07">M.GExN</text>
<rect x="105.65" y="606.95" width="16.85" height="6.65" fill="#f0766f"/>
<rect x="105.65" y="484.54" width="16.85" height="122.41" fill="#2fb24c"/>
<rect x="105.65" y="476.56" width="16.85" height="7.98" fill="#6d8fc9"/>
<text x="114.08" y="610.50" font-size="8" text-anchor="middle" transform="rotate(0.05 114.08 610.50)" fill="#000" stroke="#000" stroke-width="0.16">5</text>
<text x="114.08" y="548.04" font-size="8" text-anchor="middle" transform="rotate(0.05 114.08 548.04)" fill="#000" stroke="#000" stroke-width="0.16">92</text>
<text x="114.08" y="482.85" font-size="8" text-anchor="middle" transform="rotate(0.05 114.08 482.85)" fill="#000" stroke="#000" stroke-width="0.16">6</text>
<text x="118.67" y="622.60" font-size="8" text-anchor="end" transform="rotate(-45 118.67 622.60)" fill="#111" stroke="#111" stroke-width="0.07">Unspecific</text>
<rect x="124.10" y="594.97" width="16.85" height="18.63" fill="#f0766f"/>
<rect x="124.10" y="457.93" width="16.85" height="137.04" fill="#2fb24c"/>
<rect x="124.10" y="440.64" width="16.85" height="17.30" fill="#6d8fc9"/>
<text x="132.53" y="606.59" font-size="8" text-anchor="middle" transform="rotate(0.05 132.53 606.59)" fill="#000" stroke="#000" stroke-width="0.16">14</text>
<text x="132.53" y="528.75" font-size="8" text-anchor="middle" transform="rotate(0.05 132.53 528.75)" fill="#000" stroke="#000" stroke-width="0.16">103</text>
<text x="132.53" y="451.58" font-size="8" text-anchor="middle" transform="rotate(0.05 132.53 451.58)" fill="#000" stroke="#000" stroke-width="0.16">13</text>
<text x="137.93" y="622.20" font-size="8" text-anchor="end" transform="rotate(-45 137.93 622.20)" fill="#111" stroke="#111" stroke-width="0.07">GABA IN</text>
<rect x="142.55" y="602.96" width="16.85" height="10.64" fill="#f0766f"/>
<rect x="142.55" y="335.53" width="16.85" height="267.43" fill="#2fb24c"/>
<rect x="142.55" y="327.54" width="16.85" height="7.98" fill="#6d8fc9"/>
<text x="150.97" y="610.58" font-size="8" text-anchor="middle" transform="rotate(0.05 150.97 610.58)" fill="#000" stroke="#000" stroke-width="0.16">8</text>
<text x="150.97" y="471.54" font-size="8" text-anchor="middle" transform="rotate(0.05 150.97 471.54)" fill="#000" stroke="#000" stroke-width="0.16">201</text>
<text x="150.97" y="333.83" font-size="8" text-anchor="middle" transform="rotate(0.05 150.97 333.83)" fill="#000" stroke="#000" stroke-width="0.16">6</text>
<text x="156.57" y="621.90" font-size="8" text-anchor="end" transform="rotate(-45 156.57 621.90)" fill="#111" stroke="#111" stroke-width="0.07">Astrocyte</text>
<rect x="161.00" y="610.94" width="16.85" height="2.66" fill="#f0766f"/>
<rect x="161.00" y="415.36" width="16.85" height="195.58" fill="#2fb24c"/>
<rect x="161.00" y="402.05" width="16.85" height="13.31" fill="#6d8fc9"/>
<text x="169.43" y="608.70" font-size="8" text-anchor="middle" transform="rotate(0.05 169.43 608.70)" fill="#000" stroke="#000" stroke-width="0.16">2</text>
<text x="169.43" y="515.45" font-size="8" text-anchor="middle" transform="rotate(0.05 169.43 515.45)" fill="#000" stroke="#000" stroke-width="0.16">147</text>
<text x="169.43" y="411.00" font-size="8" text-anchor="middle" transform="rotate(0.05 169.43 411.00)" fill="#000" stroke="#000" stroke-width="0.16">10</text>
<text x="174.03" y="622.40" font-size="8" text-anchor="end" transform="rotate(-45 174.03 622.40)" fill="#111" stroke="#111" stroke-width="0.07">OPC</text>
<rect x="179.45" y="551.07" width="16.85" height="62.53" fill="#2fb24c"/>
<rect x="179.45" y="541.75" width="16.85" height="9.31" fill="#6d8fc9"/>
<text x="187.88" y="584.63" font-size="8" text-anchor="middle" transform="rotate(0.05 187.88 584.63)" fill="#000" stroke="#000" stroke-width="0.16">47</text>
<text x="187.88" y="548.71" font-size="8" text-anchor="middle" transform="rotate(0.05 187.88 548.71)" fill="#000" stroke="#000" stroke-width="0.16">7</text>
<text x="193.97" y="621.60" font-size="8" text-anchor="end" transform="rotate(-45 193.97 621.60)" fill="#111" stroke="#111" stroke-width="0.07">Microglia</text>
<rect x="197.90" y="544.41" width="16.85" height="69.19" fill="#2fb24c"/>
<rect x="197.90" y="532.44" width="16.85" height="11.97" fill="#6d8fc9"/>
<text x="206.32" y="581.31" font-size="8" text-anchor="middle" transform="rotate(0.05 206.32 581.31)" fill="#000" stroke="#000" stroke-width="0.16">52</text>
<text x="206.32" y="540.73" font-size="8" text-anchor="middle" transform="rotate(0.05 206.32 540.73)" fill="#000" stroke="#000" stroke-width="0.16">9</text>
<text x="212.92" y="621.60" font-size="8" text-anchor="end" transform="rotate(-45 212.92 621.60)" fill="#111" stroke="#111" stroke-width="0.07">Endothelial</text>
<line x1="29.00" y1="313.10" x2="29.00" y2="613.60" stroke="#808080" stroke-width="1.7"/>
<line x1="28.10" y1="613.50" x2="217.00" y2="613.50" stroke="#1a1a1a" stroke-width="1.2"/>
<line x1="26.60" y1="613.60" x2="28.60" y2="613.60" stroke="#000" stroke-width="0.9"/>
<text x="25.00" y="615.80" font-size="8" text-anchor="end" transform="rotate(0.05 25.00 615.80)" fill="#000" stroke="#000" stroke-width="0.16">0</text>
<line x1="26.60" y1="547.08" x2="28.60" y2="547.08" stroke="#000" stroke-width="0.9"/>
<text x="25.00" y="549.28" font-size="8" text-anchor="end" transform="rotate(0.05 25.00 549.28)" fill="#000" stroke="#000" stroke-width="0.16">50</text>
<line x1="26.60" y1="480.55" x2="28.60" y2="480.55" stroke="#000" stroke-width="0.9"/>
<text x="25.00" y="482.75" font-size="8" text-anchor="end" transform="rotate(0.05 25.00 482.75)" fill="#000" stroke="#000" stroke-width="0.16">100</text>
<line x1="26.60" y1="414.03" x2="28.60" y2="414.03" stroke="#000" stroke-width="0.9"/>
<text x="25.00" y="416.23" font-size="8" text-anchor="end" transform="rotate(0.05 25.00 416.23)" fill="#000" stroke="#000" stroke-width="0.16">150</text>
<line x1="26.60" y1="347.50" x2="28.60" y2="347.50" stroke="#000" stroke-width="0.9"/>
<text x="25.00" y="349.70" font-size="8" text-anchor="end" transform="rotate(0.05 25.00 349.70)" fill="#000" stroke="#000" stroke-width="0.16">200</text>
<text x="8.90" y="467.70" font-size="8.66" text-anchor="middle" transform="rotate(-90 8.90 467.70)" fill="#000" stroke="#000" stroke-width="0.07">Number of differentially expressed matrisome genes</text>
<rect x="37.00" y="299.45" width="12.00" height="12.00" fill="#6d8fc9"/>
<text x="49.80" y="307.30" font-size="7.75" transform="rotate(0.05 49.80 307.30)" fill="#111" stroke="#111" stroke-width="0.16">Late-first</text>
<rect x="86.30" y="299.45" width="12.00" height="12.00" fill="#2fb24c"/>
<text x="103.40" y="307.30" font-size="7.75" transform="rotate(0.05 103.40 307.30)" fill="#111" stroke="#111" stroke-width="0.16">Early-second</text>
<rect x="151.80" y="299.45" width="12.00" height="12.00" fill="#f0766f"/>
<text x="168.60" y="307.30" font-size="7.75" transform="rotate(0.05 168.60 307.30)" fill="#111" stroke="#111" stroke-width="0.16">Late-second</text>
<rect x="247.30" y="315.70" width="13.50" height="103.10" fill="#cdb6d0"/>
<text x="256.30" y="364.50" font-size="8.35" text-anchor="middle" transform="rotate(-90 256.30 364.50)" fill="#000" stroke="#000" stroke-width="0.07">Astrocyte</text>
<rect x="260.80" y="315.70" width="9.10" height="3.40" fill="#6d8fc9"/>
<rect x="269.90" y="315.70" width="9.10" height="3.40" fill="#2fb24c"/>
<rect x="279.00" y="315.70" width="9.10" height="3.40" fill="#f0766f"/>
<rect x="260.80" y="319.70" width="9.70" height="7.21" fill="#6b6a2a"/>
<rect x="269.90" y="319.70" width="9.70" height="7.21" fill="#1a5a9e"/>
<rect x="279.00" y="319.70" width="9.10" height="7.21" fill="#2e2c18"/>
<text x="289.00" y="325.30" font-size="6.3" transform="rotate(0.05 289.00 325.30)" fill="#6d8fc9" stroke="#6d8fc9" stroke-width="0.06">S100A6</text>
<rect x="260.80" y="326.31" width="9.70" height="7.21" fill="#07090f"/>
<rect x="269.90" y="326.31" width="9.70" height="7.21" fill="#1c4f8c"/>
<rect x="279.00" y="326.31" width="9.10" height="7.21" fill="#8c8b3a"/>
<text x="289.00" y="331.91" font-size="6.3" transform="rotate(0.05 289.00 331.91)" fill="#6d8fc9" stroke="#6d8fc9" stroke-width="0.06">TIMP1</text>
<rect x="260.80" y="332.91" width="9.70" height="7.21" fill="#9a9a38"/>
<rect x="269.90" y="332.91" width="9.70" height="7.21" fill="#0c2a50"/>
<rect x="279.00" y="332.91" width="9.10" height="7.21" fill="#14305e"/>
<text x="289.00" y="338.52" font-size="6.3" transform="rotate(0.05 289.00 338.52)" fill="#6d8fc9" stroke="#6d8fc9" stroke-width="0.06">SFRP2</text>
<rect x="260.80" y="339.52" width="9.70" height="7.21" fill="#5d5c25"/>
<rect x="269.90" y="339.52" width="9.70" height="7.21" fill="#1a5fa5"/>
<rect x="279.00" y="339.52" width="9.10" height="7.21" fill="#4a4820"/>
<text x="289.00" y="345.12" font-size="6.3" transform="rotate(0.05 289.00 345.12)" fill="#6d8fc9" stroke="#6d8fc9" stroke-width="0.06">IGFBP7</text>
<rect x="260.80" y="346.13" width="9.70" height="7.21" fill="#66652a"/>
<rect x="269.90" y="346.13" width="9.70" height="7.21" fill="#1a5fa5"/>
<rect x="279.00" y="346.13" width="9.10" height="7.21" fill="#33321a"/>
<text x="289.00" y="351.73" font-size="6.3" transform="rotate(0.05 289.00 351.73)" fill="#6d8fc9" stroke="#6d8fc9" stroke-width="0.06">S100A10</text>
<rect x="260.80" y="352.73" width="9.70" height="7.21" fill="#0d2b50"/>
<rect x="269.90" y="352.73" width="9.70" height="7.21" fill="#949438"/>
<rect x="279.00" y="352.73" width="9.10" height="7.21" fill="#0d2b50"/>
<text x="289.00" y="358.34" font-size="6.3" transform="rotate(0.05 289.00 358.34)" fill="#2fb24c" stroke="#2fb24c" stroke-width="0.06">NRG1</text>
<rect x="260.80" y="359.34" width="9.70" height="7.21" fill="#0d2b50"/>
<rect x="269.90" y="359.34" width="9.70" height="7.21" fill="#949438"/>
<rect x="279.00" y="359.34" width="9.10" height="7.21" fill="#0d2b50"/>
<text x="289.00" y="364.94" font-size="6.3" transform="rotate(0.05 289.00 364.94)" fill="#2fb24c" stroke="#2fb24c" stroke-width="0.06">FGF14</text>
<rect x="260.80" y="365.95" width="9.70" height="7.21" fill="#0d2b50"/>
<rect x="269.90" y="365.95" width="9.70" height="7.21" fill="#949438"/>
<rect x="279.00" y="365.95" width="9.10" height="7.21" fill="#0d2b50"/>
<text x="289.00" y="371.55" font-size="6.3" transform="rotate(0.05 289.00 371.55)" fill="#2fb24c" stroke="#2fb24c" stroke-width="0.06">FBN2</text>
<rect x="260.80" y="372.55" width="9.70" height="7.21" fill="#0d2b50"/>
<rect x="269.90" y="372.55" width="9.70" height="7.21" fill="#949438"/>
<rect x="279.00" y="372.55" width="9.10" height="7.21" fill="#0d2b50"/>
<text x="289.00" y="378.16" font-size="6.3" transform="rotate(0.05 289.00 378.16)" fill="#2fb24c" stroke="#2fb24c" stroke-width="0.06">NRG3</text>
<rect x="260.80" y="379.16" width="9.70" height="7.21" fill="#0d2b50"/>
<rect x="269.90" y="379.16" width="9.70" height="7.21" fill="#949438"/>
<rect x="279.00" y="379.16" width="9.10" height="7.21" fill="#0d2b50"/>
<text x="289.00" y="384.76" font-size="6.3" transform="rotate(0.05 289.00 384.76)" fill="#2fb24c" stroke="#2fb24c" stroke-width="0.06">FRAS1</text>
<rect x="260.80" y="385.77" width="9.70" height="7.21" fill="#0d2b50"/>
<rect x="269.90" y="385.77" width="9.70" height="7.21" fill="#0b2a4e"/>
<rect x="279.00" y="385.77" width="9.10" height="7.21" fill="#949438"/>
<text x="289.00" y="391.37" font-size="6.3" transform="rotate(0.05 289.00 391.37)" fill="#f0766f" stroke="#f0766f" stroke-width="0.06">FBLN2</text>
<rect x="260.80" y="392.37" width="9.70" height="7.21" fill="#0d2b50"/>
<rect x="269.90" y="392.37" width="9.70" height="7.21" fill="#0b2a4e"/>
<rect x="279.00" y="392.37" width="9.10" height="7.21" fill="#949438"/>
<text x="289.00" y="397.98" font-size="6.3" transform="rotate(0.05 289.00 397.98)" fill="#f0766f" stroke="#f0766f" stroke-width="0.06">HAPLN1</text>
<rect x="260.80" y="398.98" width="9.70" height="7.21" fill="#102f5a"/>
<rect x="269.90" y="398.98" width="9.70" height="7.21" fill="#0a2748"/>
<rect x="279.00" y="398.98" width="9.10" height="7.21" fill="#949438"/>
<text x="289.00" y="404.58" font-size="6.3" transform="rotate(0.05 289.00 404.58)" fill="#f0766f" stroke="#f0766f" stroke-width="0.06">AGT</text>
<rect x="260.80" y="405.59" width="9.70" height="7.21" fill="#0e2b52"/>
<rect x="269.90" y="405.59" width="9.70" height="7.21" fill="#0c2b50"/>
<rect x="279.00" y="405.59" width="9.10" height="7.21" fill="#949438"/>
<text x="289.00" y="411.19" font-size="6.3" transform="rotate(0.05 289.00 411.19)" fill="#f0766f" stroke="#f0766f" stroke-width="0.06">IL12A</text>
<rect x="260.80" y="412.19" width="9.70" height="6.61" fill="#0a2342"/>
<rect x="269.90" y="412.19" width="9.70" height="6.61" fill="#12305a"/>
<rect x="279.00" y="412.19" width="9.10" height="6.61" fill="#949438"/>
<text x="289.00" y="417.80" font-size="6.3" transform="rotate(0.05 289.00 417.80)" fill="#f0766f" stroke="#f0766f" stroke-width="0.06">IGFBP4</text>
<rect x="247.30" y="420.60" width="13.50" height="103.40" fill="#eda8b3"/>
<text x="256.30" y="472.30" font-size="8.35" text-anchor="middle" transform="rotate(-90 256.30 472.30)" fill="#000" stroke="#000" stroke-width="0.07">M.GExN</text>
<rect x="260.80" y="420.60" width="7.95" height="3.50" fill="#6d8fc9"/>
<rect x="268.75" y="420.60" width="7.95" height="3.50" fill="#2fb24c"/>
<rect x="276.70" y="420.60" width="7.95" height="3.50" fill="#f0766f"/>
<rect x="260.80" y="424.70" width="8.55" height="7.22" fill="#949438"/>
<rect x="268.75" y="424.70" width="8.55" height="7.22" fill="#0d2b50"/>
<rect x="276.70" y="424.70" width="7.95" height="7.22" fill="#12305a"/>
<text x="285.55" y="430.31" font-size="6.3" transform="rotate(0.05 285.55 430.31)" fill="#6d8fc9" stroke="#6d8fc9" stroke-width="0.06">CD209</text>
<rect x="260.80" y="431.32" width="8.55" height="7.22" fill="#949438"/>
<rect x="268.75" y="431.32" width="8.55" height="7.22" fill="#0b274a"/>
<rect x="276.70" y="431.32" width="7.95" height="7.22" fill="#14305a"/>
<text x="285.55" y="436.93" font-size="6.3" transform="rotate(0.05 285.55 436.93)" fill="#6d8fc9" stroke="#6d8fc9" stroke-width="0.06">MFAP4</text>
<rect x="260.80" y="437.94" width="8.55" height="7.22" fill="#8a8a38"/>
<rect x="268.75" y="437.94" width="8.55" height="7.22" fill="#0a0c12"/>
<rect x="276.70" y="437.94" width="7.95" height="7.22" fill="#164f90"/>
<text x="285.55" y="443.55" font-size="6.3" transform="rotate(0.05 285.55 443.55)" fill="#6d8fc9" stroke="#6d8fc9" stroke-width="0.06">GH1</text>
<rect x="260.80" y="444.56" width="8.55" height="7.22" fill="#7a7a36"/>
<rect x="268.75" y="444.56" width="8.55" height="7.22" fill="#1e1c10"/>
<rect x="276.70" y="444.56" width="7.95" height="7.22" fill="#1858a0"/>
<text x="285.55" y="450.17" font-size="6.3" transform="rotate(0.05 285.55 450.17)" fill="#6d8fc9" stroke="#6d8fc9" stroke-width="0.06">COL2A1</text>
<rect x="260.80" y="451.18" width="8.55" height="7.22" fill="#949438"/>
<rect x="268.75" y="451.18" width="8.55" height="7.22" fill="#0c2240"/>
<rect x="276.70" y="451.18" width="7.95" height="7.22" fill="#143a70"/>
<text x="285.55" y="456.79" font-size="6.3" transform="rotate(0.05 285.55 456.79)" fill="#6d8fc9" stroke="#6d8fc9" stroke-width="0.06">S100P</text>
<rect x="260.80" y="457.80" width="8.55" height="7.22" fill="#0d2b50"/>
<rect x="268.75" y="457.80" width="8.55" height="7.22" fill="#949438"/>
<rect x="276.70" y="457.80" width="7.95" height="7.22" fill="#0d2b50"/>
<text x="285.55" y="463.41" font-size="6.3" transform="rotate(0.05 285.55 463.41)" fill="#2fb24c" stroke="#2fb24c" stroke-width="0.06">NRG3</text>
<rect x="260.80" y="464.42" width="8.55" height="7.22" fill="#0d2b50"/>
<rect x="268.75" y="464.42" width="8.55" height="7.22" fill="#949438"/>
<rect x="276.70" y="464.42" width="7.95" height="7.22" fill="#0d2b50"/>
<text x="285.55" y="470.03" font-size="6.3" transform="rotate(0.05 285.55 470.03)" fill="#2fb24c" stroke="#2fb24c" stroke-width="0.06">NRG1</text>
<rect x="260.80" y="471.04" width="8.55" height="7.22" fill="#0d2b50"/>
<rect x="268.75" y="471.04" width="8.55" height="7.22" fill="#949438"/>
<rect x="276.70" y="471.04" width="7.95" height="7.22" fill="#0d2b50"/>
<text x="285.55" y="476.65" font-size="6.3" transform="rotate(0.05 285.55 476.65)" fill="#2fb24c" stroke="#2fb24c" stroke-width="0.06">ADAMTSL1</text>
<rect x="260.80" y="477.66" width="8.55" height="7.22" fill="#0d2b50"/>
<rect x="268.75" y="477.66" width="8.55" height="7.22" fill="#949438"/>
<rect x="276.70" y="477.66" width="7.95" height="7.22" fill="#0d2b50"/>
<text x="285.55" y="483.27" font-size="6.3" transform="rotate(0.05 285.55 483.27)" fill="#2fb24c" stroke="#2fb24c" stroke-width="0.06">GPC5</text>
<rect x="260.80" y="484.28" width="8.55" height="7.22" fill="#0d2b50"/>
<rect x="268.75" y="484.28" width="8.55" height="7.22" fill="#949438"/>
<rect x="276.70" y="484.28" width="7.95" height="7.22" fill="#0d2b50"/>
<text x="285.55" y="489.89" font-size="6.3" transform="rotate(0.05 285.55 489.89)" fill="#2fb24c" stroke="#2fb24c" stroke-width="0.06">CXCL13</text>
<rect x="260.80" y="490.90" width="8.55" height="7.22" fill="#143566"/>
<rect x="268.75" y="490.90" width="8.55" height="7.22" fill="#0c2240"/>
<rect x="276.70" y="490.90" width="7.95" height="7.22" fill="#949438"/>
<text x="285.55" y="496.51" font-size="6.3" transform="rotate(0.05 285.55 496.51)" fill="#f0766f" stroke="#f0766f" stroke-width="0.06">S100A16</text>
<rect x="260.80" y="497.52" width="8.55" height="7.22" fill="#0d2b50"/>
<rect x="268.75" y="497.52" width="8.55" height="7.22" fill="#0d2a50"/>
<rect x="276.70" y="497.52" width="7.95" height="7.22" fill="#949438"/>
<text x="285.55" y="503.13" font-size="6.3" transform="rotate(0.05 285.55 503.13)" fill="#f0766f" stroke="#f0766f" stroke-width="0.06">NPNT</text>
<rect x="260.80" y="504.14" width="8.55" height="7.22" fill="#10305c"/>
<rect x="268.75" y="504.14" width="8.55" height="7.22" fill="#0b2546"/>
<rect x="276.70" y="504.14" width="7.95" height="7.22" fill="#949438"/>
<text x="285.55" y="509.75" font-size="6.3" transform="rotate(0.05 285.55 509.75)" fill="#f0766f" stroke="#f0766f" stroke-width="0.06">IGF1</text>
<rect x="260.80" y="510.76" width="8.55" height="7.22" fill="#0d2b50"/>
<rect x="268.75" y="510.76" width="8.55" height="7.22" fill="#0c2a4e"/>
<rect x="276.70" y="510.76" width="7.95" height="7.22" fill="#949438"/>
<text x="285.55" y="516.37" font-size="6.3" transform="rotate(0.05 285.55 516.37)" fill="#f0766f" stroke="#f0766f" stroke-width="0.06">GREM1</text>
<rect x="260.80" y="517.38" width="8.55" height="6.62" fill="#0b2748"/>
<rect x="268.75" y="517.38" width="8.55" height="6.62" fill="#0a2444"/>
<rect x="276.70" y="517.38" width="7.95" height="6.62" fill="#949438"/>
<text x="285.55" y="522.99" font-size="6.3" transform="rotate(0.05 285.55 522.99)" fill="#f0766f" stroke="#f0766f" stroke-width="0.06">GDF10</text>
<rect x="247.30" y="525.90" width="13.50" height="103.80" fill="#dbe6db"/>
<text x="256.30" y="577.80" font-size="8.35" text-anchor="middle" transform="rotate(-90 256.30 577.80)" fill="#000" stroke="#000" stroke-width="0.07">NSC</text>
<rect x="260.80" y="525.90" width="7.03" height="3.70" fill="#6d8fc9"/>
<rect x="267.83" y="525.90" width="7.03" height="3.70" fill="#2fb24c"/>
<rect x="274.86" y="525.90" width="7.03" height="3.70" fill="#f0766f"/>
<rect x="260.80" y="530.20" width="7.63" height="7.23" fill="#949438"/>
<rect x="267.83" y="530.20" width="7.63" height="7.23" fill="#0d2b50"/>
<rect x="274.86" y="530.20" width="7.03" height="7.23" fill="#0d2b50"/>
<text x="282.79" y="535.82" font-size="6.3" transform="rotate(0.05 282.79 535.82)" fill="#6d8fc9" stroke="#6d8fc9" stroke-width="0.06">COL2A1</text>
<rect x="260.80" y="536.83" width="7.63" height="7.23" fill="#949438"/>
<rect x="267.83" y="536.83" width="7.63" height="7.23" fill="#0d2b50"/>
<rect x="274.86" y="536.83" width="7.03" height="7.23" fill="#0d2b50"/>
<text x="282.79" y="542.45" font-size="6.3" transform="rotate(0.05 282.79 542.45)" fill="#6d8fc9" stroke="#6d8fc9" stroke-width="0.06">AMBN</text>
<rect x="260.80" y="543.47" width="7.63" height="7.23" fill="#949438"/>
<rect x="267.83" y="543.47" width="7.63" height="7.23" fill="#0e2f58"/>
<rect x="274.86" y="543.47" width="7.03" height="7.23" fill="#10305a"/>
<text x="282.79" y="549.08" font-size="6.3" transform="rotate(0.05 282.79 549.08)" fill="#6d8fc9" stroke="#6d8fc9" stroke-width="0.06">S100A4</text>
<rect x="260.80" y="550.10" width="7.63" height="7.23" fill="#0d2b50"/>
<rect x="267.83" y="550.10" width="7.63" height="7.23" fill="#0d2b50"/>
<rect x="274.86" y="550.10" width="7.03" height="7.23" fill="#949438"/>
<text x="282.79" y="555.72" font-size="6.3" transform="rotate(0.05 282.79 555.72)" fill="#6d8fc9" stroke="#6d8fc9" stroke-width="0.06">TNFAIP6</text>
<rect x="260.80" y="556.73" width="7.63" height="7.23" fill="#949438"/>
<rect x="267.83" y="556.73" width="7.63" height="7.23" fill="#0d2b50"/>
<rect x="274.86" y="556.73" width="7.03" height="7.23" fill="#0d2b50"/>
<text x="282.79" y="562.35" font-size="6.3" transform="rotate(0.05 282.79 562.35)" fill="#6d8fc9" stroke="#6d8fc9" stroke-width="0.06">CD209</text>
<rect x="260.80" y="563.37" width="7.63" height="7.23" fill="#0d2b50"/>
<rect x="267.83" y="563.37" width="7.63" height="7.23" fill="#949438"/>
<rect x="274.86" y="563.37" width="7.03" height="7.23" fill="#0d2b50"/>
<text x="282.79" y="568.98" font-size="6.3" transform="rotate(0.05 282.79 568.98)" fill="#2fb24c" stroke="#2fb24c" stroke-width="0.06">ADAMTS17</text>
<rect x="260.80" y="570.00" width="7.63" height="7.23" fill="#10305a"/>
<rect x="267.83" y="570.00" width="7.63" height="7.23" fill="#949438"/>
<rect x="274.86" y="570.00" width="7.03" height="7.23" fill="#0d2b50"/>
<text x="282.79" y="575.62" font-size="6.3" transform="rotate(0.05 282.79 575.62)" fill="#2fb24c" stroke="#2fb24c" stroke-width="0.06">NRG3</text>
<rect x="260.80" y="576.63" width="7.63" height="7.23" fill="#12335e"/>
<rect x="267.83" y="576.63" width="7.63" height="7.23" fill="#949438"/>
<rect x="274.86" y="576.63" width="7.03" height="7.23" fill="#0a1c3a"/>
<text x="282.79" y="582.25" font-size="6.3" transform="rotate(0.05 282.79 582.25)" fill="#2fb24c" stroke="#2fb24c" stroke-width="0.06">NELL1</text>
<rect x="260.80" y="583.27" width="7.63" height="7.23" fill="#0d2b50"/>
<rect x="267.83" y="583.27" width="7.63" height="7.23" fill="#949438"/>
<rect x="274.86" y="583.27" width="7.03" height="7.23" fill="#0d2b50"/>
<text x="282.79" y="588.88" font-size="6.3" transform="rotate(0.05 282.79 588.88)" fill="#2fb24c" stroke="#2fb24c" stroke-width="0.06">KY</text>
<rect x="260.80" y="589.90" width="7.63" height="7.23" fill="#0d2b50"/>
<rect x="267.83" y="589.90" width="7.63" height="7.23" fill="#949438"/>
<rect x="274.86" y="589.90" width="7.03" height="7.23" fill="#0d2b50"/>
<text x="282.79" y="595.52" font-size="6.3" transform="rotate(0.05 282.79 595.52)" fill="#2fb24c" stroke="#2fb24c" stroke-width="0.06">PXDNL</text>
<rect x="260.80" y="596.53" width="7.63" height="7.23" fill="#0d2b50"/>
<rect x="267.83" y="596.53" width="7.63" height="7.23" fill="#0d2b50"/>
<rect x="274.86" y="596.53" width="7.03" height="7.23" fill="#949438"/>
<text x="282.79" y="602.15" font-size="6.3" transform="rotate(0.05 282.79 602.15)" fill="#f0766f" stroke="#f0766f" stroke-width="0.06">S100A1</text>
<rect x="260.80" y="603.17" width="7.63" height="7.23" fill="#0d2b50"/>
<rect x="267.83" y="603.17" width="7.63" height="7.23" fill="#0d2b50"/>
<rect x="274.86" y="603.17" width="7.03" height="7.23" fill="#949438"/>
<text x="282.79" y="608.78" font-size="6.3" transform="rotate(0.05 282.79 608.78)" fill="#f0766f" stroke="#f0766f" stroke-width="0.06">FBLN2</text>
<rect x="260.80" y="609.80" width="7.63" height="7.23" fill="#0d2b50"/>
<rect x="267.83" y="609.80" width="7.63" height="7.23" fill="#0d2b50"/>
<rect x="274.86" y="609.80" width="7.03" height="7.23" fill="#949438"/>
<text x="282.79" y="615.42" font-size="6.3" transform="rotate(0.05 282.79 615.42)" fill="#f0766f" stroke="#f0766f" stroke-width="0.06">MSTN</text>
<rect x="260.80" y="616.43" width="7.63" height="7.23" fill="#0d2b50"/>
<rect x="267.83" y="616.43" width="7.63" height="7.23" fill="#0d2b50"/>
<rect x="274.86" y="616.43" width="7.03" height="7.23" fill="#949438"/>
<text x="282.79" y="622.05" font-size="6.3" transform="rotate(0.05 282.79 622.05)" fill="#f0766f" stroke="#f0766f" stroke-width="0.06">COL20A1</text>
<rect x="260.80" y="623.07" width="7.63" height="6.63" fill="#0d2b50"/>
<rect x="267.83" y="623.07" width="7.63" height="6.63" fill="#0d2b50"/>
<rect x="274.86" y="623.07" width="7.03" height="6.63" fill="#949438"/>
<text x="282.79" y="628.68" font-size="6.3" transform="rotate(0.05 282.79 628.68)" fill="#f0766f" stroke="#f0766f" stroke-width="0.06">CCL3L3</text>
<text x="263.40" y="313.60" font-size="7.95" transform="rotate(-45 263.40 313.60)" fill="#000" stroke="#000" stroke-width="0.07">Late-first</text>
<text x="273.70" y="313.60" font-size="7.95" transform="rotate(-45 273.70 313.60)" fill="#000" stroke="#000" stroke-width="0.07">Early-second</text>
<text x="285.60" y="313.60" font-size="7.95" transform="rotate(-45 285.60 313.60)" fill="#000" stroke="#000" stroke-width="0.07">Late-second</text>
<text x="326.40" y="305.90" font-size="10.7" transform="rotate(0.05 326.40 305.90)" fill="#000" stroke="#000" stroke-width="0.16">Biological processes annotated by early-second trimester</text>
<defs>
<clipPath id="cp0"><rect x="325.2" y="315.6" width="71.80000000000001" height="101.19999999999999"/></clipPath>
<clipPath id="cp1"><rect x="325.2" y="421.1" width="71.80000000000001" height="103.29999999999995"/></clipPath>
<clipPath id="cp2"><rect x="325.2" y="527.4" width="71.80000000000001" height="103.30000000000007"/></clipPath>
<linearGradient id="cb" x1="0" y1="0" x2="0" y2="1"><stop offset="0" stop-color="#ee3322"/><stop offset="0.13" stop-color="#ee5a24"/><stop offset="0.29" stop-color="#ee8f22"/><stop offset="0.45" stop-color="#e3c02a"/><stop offset="0.61" stop-color="#b5c47a"/><stop offset="0.775" stop-color="#7fb8b4"/><stop offset="1" stop-color="#3c9ab5"/></linearGradient>
</defs>
<line x1="329.80" y1="328.50" x2="396.00" y2="328.50" stroke="#bdbdbd" stroke-width="1.0" stroke-dasharray="1 3.6"/>
<line x1="329.80" y1="340.50" x2="396.00" y2="340.50" stroke="#bdbdbd" stroke-width="1.0" stroke-dasharray="1 3.6"/>
<line x1="329.80" y1="353.50" x2="396.00" y2="353.50" stroke="#bdbdbd" stroke-width="1.0" stroke-dasharray="1 3.6"/>
<line x1="329.80" y1="365.50" x2="396.00" y2="365.50" stroke="#bdbdbd" stroke-width="1.0" stroke-dasharray="1 3.6"/>
<line x1="329.80" y1="378.50" x2="396.00" y2="378.50" stroke="#bdbdbd" stroke-width="1.0" stroke-dasharray="1 3.6"/>
<line x1="329.80" y1="390.50" x2="396.00" y2="390.50" stroke="#bdbdbd" stroke-width="1.0" stroke-dasharray="1 3.6"/>
<line x1="329.80" y1="402.50" x2="396.00" y2="402.50" stroke="#bdbdbd" stroke-width="1.0" stroke-dasharray="1 3.6"/>
<g clip-path="url(#cp0)">
<circle cx="376.5" cy="328.2" r="9.4" fill="#ee4023"/>
<circle cx="376.5" cy="340.6" r="9.4" fill="#ee4023"/>
<circle cx="376.5" cy="365.6" r="9.4" fill="#ee2a24"/>
<circle cx="376.5" cy="353.1" r="9.4" fill="#e8622a"/>
<circle cx="371.9" cy="390.4" r="9.5" fill="#ee4427"/>
<circle cx="375.2" cy="378.0" r="9.4" fill="#ee4427"/>
<circle cx="343.4" cy="402.9" r="11.4" fill="#e96226"/>
</g>
<rect x="325.20" y="315.60" width="71.80" height="101.20" fill="none" stroke="#1a1a1a" stroke-width="1.1"/>
<line x1="397.00" y1="328.20" x2="400.00" y2="328.20" stroke="#000" stroke-width="1.1"/>
<text x="401.60" y="331.70" font-size="8.5" transform="rotate(0.05 401.60 331.70)" fill="#000" stroke="#000" stroke-width="0.16">plasma membrane bounded cell projection morphogenesis</text>
<line x1="397.00" y1="340.60" x2="400.00" y2="340.60" stroke="#000" stroke-width="1.1"/>
<text x="401.60" y="344.10" font-size="8.5" transform="rotate(0.05 401.60 344.10)" fill="#000" stroke="#000" stroke-width="0.16">neuron projection morphogenesis</text>
<line x1="397.00" y1="353.10" x2="400.00" y2="353.10" stroke="#000" stroke-width="1.1"/>
<text x="401.60" y="356.60" font-size="8.5" transform="rotate(0.05 401.60 356.60)" fill="#000" stroke="#000" stroke-width="0.16">cell projection morphogenesis</text>
<line x1="397.00" y1="365.60" x2="400.00" y2="365.60" stroke="#000" stroke-width="1.1"/>
<text x="401.60" y="369.10" font-size="8.5" transform="rotate(0.05 401.60 369.10)" fill="#000" stroke="#000" stroke-width="0.16">cell morphogenesis involved in neuron differentiation</text>
<line x1="397.00" y1="378.00" x2="400.00" y2="378.00" stroke="#000" stroke-width="1.1"/>
<text x="401.60" y="381.50" font-size="8.5" transform="rotate(0.05 401.60 381.50)" fill="#000" stroke="#000" stroke-width="0.16">axon development</text>
<line x1="397.00" y1="390.40" x2="400.00" y2="390.40" stroke="#000" stroke-width="1.1"/>
<text x="401.60" y="393.90" font-size="8.5" transform="rotate(0.05 401.60 393.90)" fill="#000" stroke="#000" stroke-width="0.16">axonogenesis</text>
<line x1="397.00" y1="402.90" x2="400.00" y2="402.90" stroke="#000" stroke-width="1.1"/>
<text x="401.60" y="406.40" font-size="8.5" transform="rotate(0.05 401.60 406.40)" fill="#000" stroke="#000" stroke-width="0.16">semaphorin-plexin signaling pathway</text>
<line x1="329.80" y1="428.50" x2="396.00" y2="428.50" stroke="#bdbdbd" stroke-width="1.0" stroke-dasharray="1 3.6"/>
<line x1="329.80" y1="441.50" x2="396.00" y2="441.50" stroke="#bdbdbd" stroke-width="1.0" stroke-dasharray="1 3.6"/>
<line x1="329.80" y1="453.50" x2="396.00" y2="453.50" stroke="#bdbdbd" stroke-width="1.0" stroke-dasharray="1 3.6"/>
<line x1="329.80" y1="466.50" x2="396.00" y2="466.50" stroke="#bdbdbd" stroke-width="1.0" stroke-dasharray="1 3.6"/>
<line x1="329.80" y1="478.50" x2="396.00" y2="478.50" stroke="#bdbdbd" stroke-width="1.0" stroke-dasharray="1 3.6"/>
<line x1="329.80" y1="491.50" x2="396.00" y2="491.50" stroke="#bdbdbd" stroke-width="1.0" stroke-dasharray="1 3.6"/>
<line x1="329.80" y1="503.50" x2="396.00" y2="503.50" stroke="#bdbdbd" stroke-width="1.0" stroke-dasharray="1 3.6"/>
<line x1="329.80" y1="515.50" x2="396.00" y2="515.50" stroke="#bdbdbd" stroke-width="1.0" stroke-dasharray="1 3.6"/>
<g clip-path="url(#cp1)">
<circle cx="393.3" cy="428.9" r="7.5" fill="#78b4be"/>
<circle cx="391.5" cy="441.4" r="7.5" fill="#78b4be"/>
<circle cx="374.6" cy="466.4" r="9.2" fill="#e5a023"/>
<circle cx="374.6" cy="453.7" r="9.2" fill="#e5a823"/>
<circle cx="374.6" cy="491.1" r="9.2" fill="#ee9020"/>
<circle cx="374.6" cy="478.7" r="9.2" fill="#e2b82a"/>
<circle cx="368.6" cy="515.9" r="9.1" fill="#e2b628"/>
<circle cx="371.5" cy="503.4" r="9.2" fill="#e2b628"/>
</g>
<rect x="325.20" y="421.10" width="71.80" height="103.30" fill="none" stroke="#1a1a1a" stroke-width="1.1"/>
<line x1="397.00" y1="428.90" x2="400.00" y2="428.90" stroke="#000" stroke-width="1.1"/>
<text x="401.60" y="432.40" font-size="8.5" transform="rotate(0.05 401.60 432.40)" fill="#000" stroke="#000" stroke-width="0.16">structural molecule activity</text>
<line x1="397.00" y1="441.40" x2="400.00" y2="441.40" stroke="#000" stroke-width="1.1"/>
<text x="401.60" y="444.90" font-size="8.5" transform="rotate(0.05 401.60 444.90)" fill="#000" stroke="#000" stroke-width="0.16">extracellular matrix structural constituent</text>
<line x1="397.00" y1="453.70" x2="400.00" y2="453.70" stroke="#000" stroke-width="1.1"/>
<text x="401.60" y="457.20" font-size="8.5" transform="rotate(0.05 401.60 457.20)" fill="#000" stroke="#000" stroke-width="0.16">plasma membrane bounded cell projection morphogenesis</text>
<line x1="397.00" y1="466.40" x2="400.00" y2="466.40" stroke="#000" stroke-width="1.1"/>
<text x="401.60" y="469.90" font-size="8.5" transform="rotate(0.05 401.60 469.90)" fill="#000" stroke="#000" stroke-width="0.16">neuron projection morphogenesis</text>
<line x1="397.00" y1="478.70" x2="400.00" y2="478.70" stroke="#000" stroke-width="1.1"/>
<text x="401.60" y="482.20" font-size="8.5" transform="rotate(0.05 401.60 482.20)" fill="#000" stroke="#000" stroke-width="0.16">cell projection morphogenesis</text>
<line x1="397.00" y1="491.10" x2="400.00" y2="491.10" stroke="#000" stroke-width="1.1"/>
<text x="401.60" y="494.60" font-size="8.5" transform="rotate(0.05 401.60 494.60)" fill="#000" stroke="#000" stroke-width="0.16">cell morphogenesis involved in neuron differentiation</text>
<line x1="397.00" y1="503.40" x2="400.00" y2="503.40" stroke="#000" stroke-width="1.1"/>
<text x="401.60" y="506.90" font-size="8.5" transform="rotate(0.05 401.60 506.90)" fill="#000" stroke="#000" stroke-width="0.16">axon development</text>
<line x1="397.00" y1="515.90" x2="400.00" y2="515.90" stroke="#000" stroke-width="1.1"/>
<text x="401.60" y="519.40" font-size="8.5" transform="rotate(0.05 401.60 519.40)" fill="#000" stroke="#000" stroke-width="0.16">axonogenesis</text>
<line x1="329.80" y1="536.50" x2="396.00" y2="536.50" stroke="#bdbdbd" stroke-width="1.0" stroke-dasharray="1 3.6"/>
<line x1="329.80" y1="548.50" x2="396.00" y2="548.50" stroke="#bdbdbd" stroke-width="1.0" stroke-dasharray="1 3.6"/>
<line x1="329.80" y1="560.50" x2="396.00" y2="560.50" stroke="#bdbdbd" stroke-width="1.0" stroke-dasharray="1 3.6"/>
<line x1="329.80" y1="573.50" x2="396.00" y2="573.50" stroke="#bdbdbd" stroke-width="1.0" stroke-dasharray="1 3.6"/>
<line x1="329.80" y1="585.50" x2="396.00" y2="585.50" stroke="#bdbdbd" stroke-width="1.0" stroke-dasharray="1 3.6"/>
<line x1="329.80" y1="598.50" x2="396.00" y2="598.50" stroke="#bdbdbd" stroke-width="1.0" stroke-dasharray="1 3.6"/>
<line x1="329.80" y1="610.50" x2="396.00" y2="610.50" stroke="#bdbdbd" stroke-width="1.0" stroke-dasharray="1 3.6"/>
<line x1="329.80" y1="623.50" x2="396.00" y2="623.50" stroke="#bdbdbd" stroke-width="1.0" stroke-dasharray="1 3.6"/>
<g clip-path="url(#cp2)">
<circle cx="366.2" cy="536.0" r="7.4" fill="#4aa0b5"/>
<circle cx="364.2" cy="548.1" r="7.6" fill="#409cb4"/>
<circle cx="362.1" cy="560.6" r="7.7" fill="#3f9bb3"/>
<circle cx="336.5" cy="573.3" r="8.3" fill="#48a0b6"/>
<circle cx="334.5" cy="585.6" r="9.0" fill="#3f9bb3"/>
<circle cx="330.5" cy="623.5" r="8.5" fill="#48a0b6"/>
<circle cx="330.5" cy="610.6" r="8.5" fill="#4aa1b7"/>
<circle cx="328.5" cy="598.3" r="9.3" fill="#3898b2"/>
</g>
<rect x="325.20" y="527.40" width="71.80" height="103.30" fill="none" stroke="#1a1a1a" stroke-width="1.1"/>
<line x1="397.00" y1="536.00" x2="400.00" y2="536.00" stroke="#000" stroke-width="1.1"/>
<text x="401.60" y="539.50" font-size="8.5" transform="rotate(0.05 401.60 539.50)" fill="#000" stroke="#000" stroke-width="0.16">cell morphogenesis involved in neuron differentiation</text>
<line x1="397.00" y1="548.10" x2="400.00" y2="548.10" stroke="#000" stroke-width="1.1"/>
<text x="401.60" y="551.60" font-size="8.5" transform="rotate(0.05 401.60 551.60)" fill="#000" stroke="#000" stroke-width="0.16">axon development</text>
<line x1="397.00" y1="560.60" x2="400.00" y2="560.60" stroke="#000" stroke-width="1.1"/>
<text x="401.60" y="564.10" font-size="8.5" transform="rotate(0.05 401.60 564.10)" fill="#000" stroke="#000" stroke-width="0.16">axonogenesis</text>
<line x1="397.00" y1="573.30" x2="400.00" y2="573.30" stroke="#000" stroke-width="1.1"/>
<text x="401.60" y="576.80" font-size="8.5" transform="rotate(0.05 401.60 576.80)" fill="#000" stroke="#000" stroke-width="0.16">transmembrane signaling receptor activity</text>
<line x1="397.00" y1="585.60" x2="400.00" y2="585.60" stroke="#000" stroke-width="1.1"/>
<text x="401.60" y="589.10" font-size="8.5" transform="rotate(0.05 401.60 589.10)" fill="#000" stroke="#000" stroke-width="0.16">neuron migration</text>
<line x1="397.00" y1="598.30" x2="400.00" y2="598.30" stroke="#000" stroke-width="1.1"/>
<text x="401.60" y="601.80" font-size="8.5" transform="rotate(0.05 401.60 601.80)" fill="#000" stroke="#000" stroke-width="0.16">regulation of neuron migration</text>
<line x1="397.00" y1="610.60" x2="400.00" y2="610.60" stroke="#000" stroke-width="1.1"/>
<text x="401.60" y="614.10" font-size="8.5" transform="rotate(0.05 401.60 614.10)" fill="#000" stroke="#000" stroke-width="0.16">detection of external stimulus</text>
<line x1="397.00" y1="623.50" x2="400.00" y2="623.50" stroke="#000" stroke-width="1.1"/>
<text x="401.60" y="627.00" font-size="8.5" transform="rotate(0.05 401.60 627.00)" fill="#000" stroke="#000" stroke-width="0.16">detection of abiotic stimulus</text>
<rect x="324.75" y="523.90" width="72.70" height="3.90" fill="#9c9c9c"/>
<line x1="343.40" y1="630.70" x2="343.40" y2="633.30" stroke="#000" stroke-width="0.9"/>
<text x="343.40" y="641.80" font-size="8" text-anchor="middle" transform="rotate(0.05 343.40 641.80)" fill="#000" stroke="#000" stroke-width="0.16">0.1</text>
<line x1="370.60" y1="630.70" x2="370.60" y2="633.30" stroke="#000" stroke-width="0.9"/>
<text x="370.60" y="641.80" font-size="8" text-anchor="middle" transform="rotate(0.05 370.60 641.80)" fill="#000" stroke="#000" stroke-width="0.16">0.2</text>
<text x="324.80" y="653.40" font-size="8.25" transform="rotate(0.05 324.80 653.40)" fill="#000" stroke="#000" stroke-width="0.16">Enrichment Ratio</text>
<text x="633.80" y="426.80" font-size="8.3" transform="rotate(0.05 633.80 426.80)" fill="#000" stroke="#000" stroke-width="0.16">-log10(Adj P)</text>
<rect x="633.80" y="432.10" width="12.60" height="62.10" fill="url(#cb)"/>
<line x1="633.80" y1="440.00" x2="636.30" y2="440.00" stroke="#fff" stroke-width="0.6"/>
<line x1="643.90" y1="440.00" x2="646.40" y2="440.00" stroke="#fff" stroke-width="0.6"/>
<text x="650.70" y="442.90" font-size="8" transform="rotate(0.05 650.70 442.90)" fill="#000" stroke="#000" stroke-width="0.16">6</text>
<line x1="633.80" y1="460.20" x2="636.30" y2="460.20" stroke="#fff" stroke-width="0.6"/>
<line x1="643.90" y1="460.20" x2="646.40" y2="460.20" stroke="#fff" stroke-width="0.6"/>
<text x="650.70" y="463.10" font-size="8" transform="rotate(0.05 650.70 463.10)" fill="#000" stroke="#000" stroke-width="0.16">4</text>
<line x1="633.80" y1="480.20" x2="636.30" y2="480.20" stroke="#fff" stroke-width="0.6"/>
<line x1="643.90" y1="480.20" x2="646.40" y2="480.20" stroke="#fff" stroke-width="0.6"/>
<text x="650.70" y="483.10" font-size="8" transform="rotate(0.05 650.70 483.10)" fill="#000" stroke="#000" stroke-width="0.16">2</text>
<text x="630.00" y="522.80" font-size="8" transform="rotate(0.05 630.00 522.80)" fill="#000" stroke="#000" stroke-width="0.16">Annotation</text>
<text x="630.00" y="532.80" font-size="8" transform="rotate(0.05 630.00 532.80)" fill="#000" stroke="#000" stroke-width="0.16">enrichment</text>
<circle cx="643.8" cy="543.7" r="2.9" fill="#000"/>
<text x="663.60" y="547.00" font-size="8" transform="rotate(0.05 663.60 547.00)" fill="#000" stroke="#000" stroke-width="0.16">1</text>
<circle cx="643.8" cy="560.8" r="5.6" fill="#000"/>
<text x="663.60" y="564.10" font-size="8" transform="rotate(0.05 663.60 564.10)" fill="#000" stroke="#000" stroke-width="0.16">10</text>
<circle cx="643.8" cy="579.3" r="8.25" fill="#000"/>
<text x="663.60" y="582.60" font-size="8" transform="rotate(0.05 663.60 582.60)" fill="#000" stroke="#000" stroke-width="0.16">30</text>
<circle cx="643.8" cy="601.3" r="10.2" fill="#000"/>
<text x="663.60" y="604.60" font-size="8" transform="rotate(0.05 663.60 604.60)" fill="#000" stroke="#000" stroke-width="0.16">50</text>
<circle cx="643.8" cy="627.3" r="11.7" fill="#000"/>
<text x="663.60" y="630.60" font-size="8" transform="rotate(0.05 663.60 630.60)" fill="#000" stroke="#000" stroke-width="0.16">70</text>
</svg>
</body></html>
